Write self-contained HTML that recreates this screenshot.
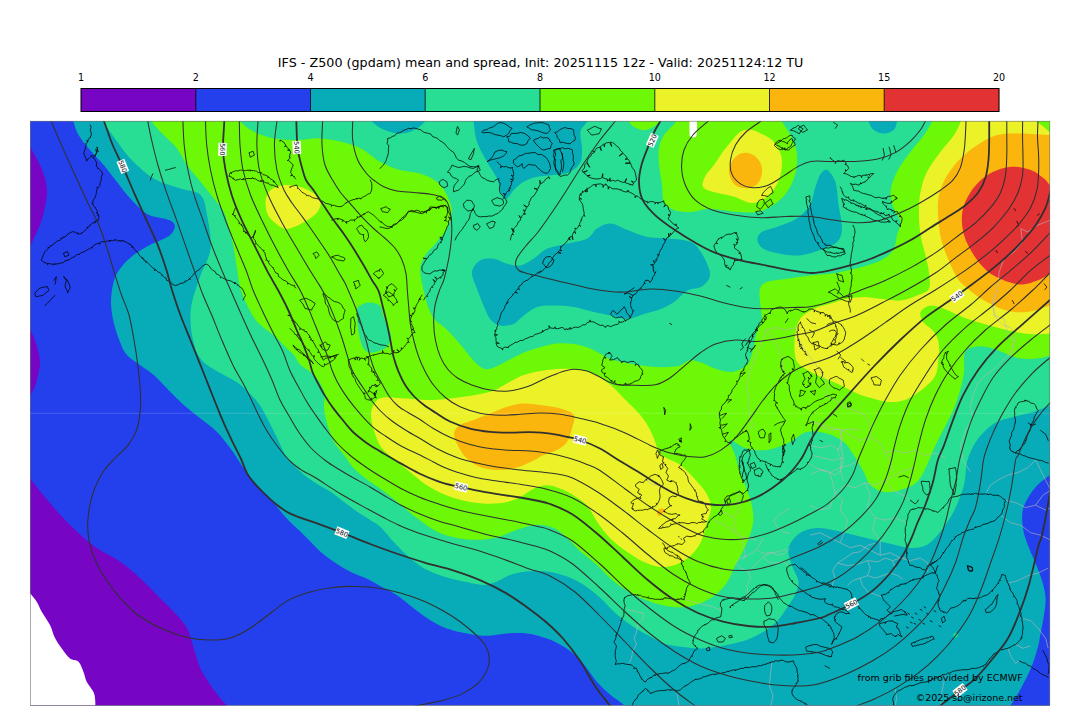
<!DOCTYPE html>
<html lang="en"><head><meta charset="utf-8"><title>IFS - Z500 mean and spread</title>
<style>
html,body{margin:0;padding:0;background:#fff}
body{width:1080px;height:718px;overflow:hidden;font-family:"DejaVu Sans","Liberation Sans",sans-serif}
svg{display:block}
text{font-family:"DejaVu Sans","Liberation Sans",sans-serif;fill:#000}
.t{font-size:12.7px}
.cb{font-size:9.6px}
.cl{font-size:6.6px}
.cr{font-size:9.5px}
.iso{fill:none;stroke:#303030;stroke-width:1.05;stroke-linejoin:round}
.isob{fill:none;stroke:#303030;stroke-width:1.8;stroke-linejoin:round}
.coast{fill:none;stroke:#000;stroke-width:0.75;stroke-linejoin:round;stroke-linecap:round}
.bord{fill:none;stroke:#b9b9b9;stroke-width:0.6;stroke-linejoin:round}
</style></head><body>
<svg width="1080" height="718" viewBox="0 0 1080 718">
<defs><clipPath id="mapclip"><rect x="30" y="121" width="1020" height="584.5"/></clipPath></defs>
<text class="t" x="277.8" y="67.2" textLength="525.6" lengthAdjust="spacing">IFS - Z500 (gpdam) mean and spread, Init: 20251115 12z - Valid: 20251124:12 TU</text>
<g id="colorbar">
<rect x="81" y="88.5" width="115" height="23" fill="#7605c4"/>
<rect x="195.8" y="88.5" width="115" height="23" fill="#2440ec"/>
<rect x="310.5" y="88.5" width="115" height="23" fill="#08abb8"/>
<rect x="425.2" y="88.5" width="115" height="23" fill="#28dd94"/>
<rect x="540" y="88.5" width="115" height="23" fill="#6cf806"/>
<rect x="654.8" y="88.5" width="115" height="23" fill="#ebf228"/>
<rect x="769.5" y="88.5" width="115" height="23" fill="#fab60c"/>
<rect x="884.2" y="88.5" width="115" height="23" fill="#e23234"/>
<path d="M195.8 88.5V111.5" stroke="#000" stroke-width="0.8"/>
<path d="M310.5 88.5V111.5" stroke="#000" stroke-width="0.8"/>
<path d="M425.2 88.5V111.5" stroke="#000" stroke-width="0.8"/>
<path d="M540 88.5V111.5" stroke="#000" stroke-width="0.8"/>
<path d="M654.8 88.5V111.5" stroke="#000" stroke-width="0.8"/>
<path d="M769.5 88.5V111.5" stroke="#000" stroke-width="0.8"/>
<path d="M884.2 88.5V111.5" stroke="#000" stroke-width="0.8"/>
<rect x="81" y="88.5" width="918" height="23" fill="none" stroke="#000" stroke-width="1"/>
<text class="cb" x="81" y="81" text-anchor="middle">1</text>
<text class="cb" x="195.8" y="81" text-anchor="middle">2</text>
<text class="cb" x="310.5" y="81" text-anchor="middle">4</text>
<text class="cb" x="425.2" y="81" text-anchor="middle">6</text>
<text class="cb" x="540" y="81" text-anchor="middle">8</text>
<text class="cb" x="654.8" y="81" text-anchor="middle">10</text>
<text class="cb" x="769.5" y="81" text-anchor="middle">12</text>
<text class="cb" x="884.2" y="81" text-anchor="middle">15</text>
<text class="cb" x="999" y="81" text-anchor="middle">20</text>
</g>
<g id="map" clip-path="url(#mapclip)">
<rect x="30" y="121" width="1020" height="585" fill="#2440ec"/>
<path id="pur1" fill="#7605c4" d="M28 144C28.8 145.3 31 148.5 33 152C35 155.5 38 160.7 40 165C42 169.3 43.8 173.5 45 178C46.2 182.5 47 187.2 47 192C47 196.8 46 202 45 207C44 212 42.5 217.5 41 222C39.5 226.5 37.7 230.3 36 234C34.3 237.7 32.3 241.7 31 244C29.7 246.3 28.5 247.3 28 248L10 248L10 144Z"/>
<path id="pur2" fill="#7605c4" d="M28 326C28.7 327.2 30.7 330.2 32 333C33.3 335.8 34.8 339.3 36 343C37.2 346.7 38.3 351.5 39 355C39.7 358.5 40.2 360.5 40 364C39.8 367.5 38.8 372.3 38 376C37.2 379.7 36.2 383 35 386C33.8 389 32.2 392 31 394C29.8 396 28.5 397.3 28 398L10 398L10 326Z"/>
<path id="pur3" fill="#7605c4" d="M26 472C26.7 473 27.7 474.8 30 478C32.3 481.2 35.5 485.5 40 491C44.5 496.5 50.7 504.2 56.8 511C62.9 517.8 70.1 525.3 76.8 531.5C83.5 537.7 89.7 543 96.9 548C104.1 553 112.8 556.6 120 561.6C127.2 566.6 133.8 572.4 140 578C146.2 583.6 151.4 589.4 157 595C162.6 600.6 168.7 606.2 173.7 611.7C178.7 617.2 183.7 621.9 187 628C190.3 634.1 191.6 641.8 193.8 648.5C196.1 655.2 197.7 662.4 200.5 668.5C203.3 674.6 207.2 680 210.5 685C213.8 690 217.4 694.8 220.5 698.6C223.6 702.4 227.6 706.4 229 708L229 740L0 740L0 472Z"/>
<path id="white" fill="#ffffff" d="M28 590C28.3 590.5 28.6 591 30 593C31.4 595 34.8 598.6 36.7 601.7C38.7 604.8 39.5 607.8 41.7 611.7C43.9 615.6 47.8 620.6 50 625C52.2 629.4 53 634.1 55 638C57 641.9 59.3 645.1 61.8 648.5C64.3 651.9 67.2 656.3 70 658.5C72.8 660.7 76.2 659.5 78.5 661.8C80.8 664 82.1 668.6 83.5 672C84.9 675.4 85.1 678.7 86.8 682C88.5 685.3 92.1 689 93.5 692C94.9 695 94.9 697.3 95.2 700C95.5 702.7 95.3 706.7 95.3 708L95 740L0 740L0 590Z"/>
<path id="teal" fill="#08abb8" d="M72 112C72.2 113.6 72.4 117.9 73.5 121.7C74.6 125.5 75.8 130.3 78.5 135C81.2 139.7 85.8 145 90 150C94.2 155 99.1 159.7 103.6 165C108.1 170.3 112.5 176.4 117 182C121.5 187.6 125.3 193.3 130.3 198.6C135.3 203.9 141.4 210.7 147 214C152.6 217.3 159.5 217.3 163.7 218.6C167.9 219.8 170.2 220.1 172 221.5C173.8 222.9 175.3 224.6 174.8 227C174.3 229.4 173.1 233 169 236C164.9 239 155.9 241.8 150 245C144.1 248.2 138.6 251.1 133.6 255C128.6 258.9 123.3 264.2 120 268.7C116.7 273.2 115.1 276.4 113.6 282C112.1 287.6 111 295.3 111 302C111 308.7 112.1 315.3 113.6 322C115.1 328.7 117.8 336.5 120 342C122.2 347.5 123.7 351.2 127 355C130.3 358.8 135.6 361.7 140 365C144.4 368.3 149.2 371.1 153.7 375C158.2 378.9 162 383.4 167 388.4C172 393.4 178.2 400 183.8 405C189.4 410 195 414 200.5 418.5C206 423 212 426.9 217 431.9C222 436.9 226.1 442.5 230.6 448.6C235.1 454.7 239.6 462.5 244 468.6C248.4 474.7 252.6 480 257 485C261.4 490 266.2 493.6 270.7 498.7C275.2 503.8 279.6 510.4 284 515.4C288.4 520.4 292.9 524.4 297.4 528.8C301.9 533.2 306.9 538.1 310.8 542C314.7 545.9 316.9 548.7 320.8 552C324.7 555.3 329 558.7 334 562C339 565.3 345.3 569.2 350.9 572C356.5 574.8 362.8 576.7 367.6 579C372.5 581.3 375.1 583.3 380 586C384.9 588.7 391.1 591.3 396.7 595C402.3 598.7 407.8 603.8 413.4 608C418.9 612.2 424.4 616.6 430 620C435.6 623.4 440.6 626.2 446.8 628.4C453 630.6 460.3 632.2 467 633.4C473.7 634.6 480.3 635.8 487 635.8C493.7 635.8 500.3 633.8 507 633.4C513.7 633 520.3 632.6 527 633.4C533.7 634.2 540.9 636.2 547 638.4C553.1 640.6 558.8 643.7 563.8 646.8C568.8 649.9 573.1 653.2 577 656.8C580.9 660.4 583.7 664.3 587 668.5C590.3 672.7 593.1 677.6 597 682C600.9 686.4 606.1 691.2 610.6 695C615.1 698.8 620.8 702.2 624 705C627.2 707.8 629 710.8 630 712L1100 740L1100 80L72 80Z"/>
<path id="blueR" fill="#2440ec" d="M1056 470C1055 470.8 1053.1 472.5 1050 475C1046.9 477.5 1041.2 481.1 1037.5 485C1033.8 488.9 1030 494.2 1027.5 498.7C1025 503.2 1023.2 507 1022.5 512C1021.8 517 1022.1 523.2 1023 528.8C1023.9 534.4 1026 540 1028 545.5C1030 551 1032.8 556.4 1035 562C1037.2 567.6 1039.8 573.2 1041.5 579C1043.2 584.8 1045.1 591 1045.5 597C1045.9 603 1044.8 609.2 1044 615C1043.2 620.8 1042 626.1 1040.9 631.7C1039.8 637.3 1039.2 642.4 1037.5 648.5C1035.8 654.6 1033.6 661.8 1030.8 668.5C1028 675.2 1024.1 682.5 1020.8 688.6C1017.5 694.7 1013.3 701.1 1010.8 705C1008.3 708.9 1006.8 710.8 1006 712L1100 740L1100 470Z"/>
<path id="gteal" fill="#28dd94" d="M101 112C101.4 113.6 101.1 117 103.6 121.7C106.1 126.4 111.5 133.9 116 140C120.5 146.1 124 152 130.3 158.4C136.6 164.8 145.3 173.5 153.7 178.5C162 183.5 172.6 185.8 180.4 188.5C188.2 191.2 196.1 190.6 200.5 195C204.9 199.4 205.3 206.1 207 215C208.7 223.9 211.6 238.6 210.5 248.7C209.4 258.8 203.6 266.5 200.5 275.4C197.4 284.3 193.7 294.2 192 302C190.3 309.8 190.3 315.7 190.5 322C190.7 328.3 191.8 334.5 193 340C194.2 345.5 195.7 350.8 198 355C200.3 359.2 202.7 361.7 207 365C211.3 368.3 218.3 371.7 223.9 375C229.5 378.3 235 380.5 240.6 385C246.2 389.5 252.9 396.2 257.3 401.8C261.8 407.4 264 412.4 267.3 418.5C270.6 424.6 274 431.9 277.3 438.6C280.6 445.3 283.5 453 287.4 458.6C291.3 464.2 296.3 468.1 300.7 472C305.1 475.9 309 478.7 314 482C319 485.3 325.8 488.7 330.8 492C335.8 495.3 339.5 498.7 344 502C348.5 505.3 353.1 508.9 357.6 512C362.1 515.1 367.2 518 370.9 520.4C374.6 522.8 376.2 523 380 526.5C383.8 530 388.9 536.8 393.4 541.5C397.8 546.2 401.7 550.6 406.7 555C411.7 559.4 417.3 564.4 423.4 568C429.5 571.6 436.8 574.3 443.5 576.6C450.2 578.9 456.9 580.2 463.6 581.6C470.3 583 478 585 483.6 585C489.2 585 492.6 583.3 497 581.6C501.4 579.9 505.3 576.7 510.3 575C515.3 573.3 520.9 572.2 527 571.6C533.1 571 540.3 570.8 547 571.6C553.7 572.4 560.9 574.4 567 576.6C573.1 578.8 578.3 581.4 583.9 585C589.5 588.6 595.6 593.8 600.6 598.3C605.6 602.8 609 607.2 614 611.7C619 616.2 625.1 621.1 630.7 625C636.3 628.9 641.9 631.9 647.4 635C652.9 638.1 658.4 641.4 664 643.4C669.6 645.4 674.7 645.9 680.8 646.8C686.9 647.6 694.7 648.5 700.8 648.5C706.9 648.5 712.5 647.5 717.5 646.8C722.5 646 726.1 645.1 731 644C735.9 642.9 741.3 642 746.7 640C752.1 638 758.4 634.8 763.4 631.7C768.4 628.7 772.9 625.7 776.8 621.7C780.7 617.8 783.8 612.5 786.8 608C789.8 603.5 793 599.4 795 595C797 590.6 799 586.6 798.5 581.6C798 576.6 793.6 570.5 791.9 564.9C790.2 559.3 787.1 553.3 788.5 548C789.9 542.7 795.2 536.3 800 533C804.8 529.7 810.8 528.4 817 528C823.2 527.6 829.8 529.4 837 530.8C844.2 532.2 851.7 534.5 860 536.5C868.3 538.5 878.6 541.1 887 543C895.4 544.9 903.8 547.7 910.5 548C917.2 548.3 922 547.5 927 544.8C932 542 936.1 537.1 940.6 531.5C945.1 525.9 950.1 518.8 954 511C957.9 503.2 961.8 492.9 964 484.7C966.2 476.5 965.3 468.6 967 462C968.7 455.4 971.2 450 974 445C976.8 440 980.1 435.9 984 432C987.9 428.1 992.4 424.3 997.4 421.8C1002.4 419.3 1007.9 418.5 1014 416.8C1020.1 415.1 1028 413.8 1034 411.8C1040 409.8 1045.7 407 1050 405C1054.3 403 1058.3 400.8 1060 400L1100 80L101 80Z"/>
<path id="green" fill="#6cf806" d="M149 112C149.5 113.6 149.6 117.9 152 121.7C154.4 125.5 159.5 130.6 163.7 135C167.9 139.4 173.1 143.4 177 148.4C180.9 153.4 183.1 159.4 187 165C190.9 170.6 196 176.2 200.5 181.8C205 187.4 210 193.6 213.9 198.6C217.8 203.6 221.4 207 223.9 212C226.4 217 227.2 222.5 228.9 228.6C230.6 234.7 232.6 242 233.9 248.7C235.2 255.4 235.9 262 237 268.7C238.1 275.4 238.9 282.7 240.6 288.8C242.3 294.9 244.5 300 247.3 305.5C250.1 311 252.9 317 257.3 322C261.8 327 269 331.1 274 335.6C279 340.1 284.1 345.8 287.4 349C290.7 352.2 291.8 352.3 294 355C296.2 357.7 297.4 361.7 300.7 365C304 368.3 310.1 370.5 314 375C317.9 379.5 322.3 386.2 324 391.8C325.7 397.4 323.4 403 324 408.5C324.6 414 325.8 419.4 327.5 425C329.2 430.6 331.2 436.9 334 441.9C336.8 446.9 340.7 450.6 344 455C347.3 459.4 350.1 464.4 354 468.6C357.9 472.8 363.3 476.7 367.6 480C371.9 483.3 375.1 484.9 380 488.5C384.9 492.1 390.6 496.5 396.7 501.4C402.8 506.3 410.1 513 416.8 518C423.5 523 430.1 528.2 436.8 531.5C443.5 534.8 449.7 536.6 456.9 538C464.1 539.4 472.8 540 480 539.8C487.2 539.5 493.8 538.2 500 536.5C506.2 534.8 510.8 531.8 517 529.8C523.2 527.8 530.9 525.1 537 524.8C543.1 524.5 548.8 525.8 553.8 528C558.8 530.2 562.5 534.1 567 538C571.5 541.9 575.5 547 580.5 551.5C585.5 556 591.4 560 597 565C602.6 570 608.4 576.9 614 581.6C619.6 586.3 624.6 589.6 630.7 593C636.8 596.4 644 599.4 650.7 601.7C657.4 604 664.7 605.9 670.8 606.7C676.9 607.5 682 607.5 687.5 606.7C693 605.9 699 604 704 601.7C709 599.4 713.7 596.4 717.6 593C721.5 589.6 724.9 585.8 727.6 581.6C730.3 577.4 731.8 572.4 734 568C736.2 563.6 738.7 559.7 741 555C743.3 550.3 746.2 544.5 748 540C749.8 535.5 751.1 531.7 752 528C752.9 524.3 753.4 521.8 753.4 518C753.4 514.2 752.8 509.9 751.7 505C750.6 500.1 748.7 494.2 746.7 488.7C744.8 483.2 742 477.6 740 472C738 466.4 736.7 460.3 735 455C733.3 449.7 728 441.1 730 440C732 438.9 740.6 446.9 746.7 448.6C752.8 450.3 760.1 450.8 766.8 450C773.5 449.2 780.1 446.6 786.8 443.6C793.5 440.6 800.2 433.6 806.9 431.9C813.6 430.2 820.9 431.8 827 433.5C833.1 435.2 839.2 438.3 843.7 441.9C848.2 445.5 850.4 450 853.7 455C857 460 860.9 467 863.7 472C866.5 477 867 481.7 870.4 485C873.8 488.3 878.8 491.2 883.8 492C888.8 492.8 895 491.7 900.5 490C906 488.3 912.6 486.2 917 482C921.4 477.8 924.2 470.6 927 465C929.8 459.4 931.2 454.7 934 448.6C936.8 442.5 940.7 435.2 944 428.5C947.3 421.8 951.2 415.2 954 408.5C956.8 401.8 958.9 394.5 960.6 388.4C962.3 382.3 963.3 377.7 964 371.7C964.7 365.7 963.2 356.6 964.8 352.5C966.4 348.4 970 347.8 973.7 346.9C977.4 346 982.5 346.2 987 346.9C991.5 347.6 995.9 349.6 1000.4 351.3C1004.9 353 1009.3 355.6 1013.8 356.9C1018.3 358.2 1022.7 358.8 1027.2 359C1031.7 359.2 1036.8 358.5 1040.6 358C1044.4 357.5 1046.8 356.5 1050 355.8C1053.2 355.1 1058.3 354.3 1060 354L1100 80L149 80Z"/>
<path id="arctic" fill="#28dd94" d="M236 112C236.8 113.6 237.6 118.4 240.6 121.7C243.6 125 248.4 128.9 254 131.7C259.6 134.5 266.8 137 274 138.4C281.2 139.8 289.6 140 297.4 140C305.2 140 313.6 138.1 320.8 138.4C328.1 138.7 334.2 140 340.9 141.7C347.6 143.4 354.5 145.1 361 148.4C367.5 151.8 373.5 158.2 380 161.8C386.5 165.4 393.3 168.1 400 170C406.7 171.9 413.9 171.5 420 173.5C426.1 175.5 432.3 178.2 436.8 181.8C441.3 185.4 444.3 190 446.8 195C449.3 200 451.9 206.4 451.9 212C451.9 217.6 449.3 223.6 446.8 228.6C444.3 233.6 440.1 237.9 436.8 242C433.5 246.1 429.6 249.3 427 253C424.4 256.7 422.1 260.5 421 264C419.9 267.5 420.2 270.2 420.5 274C420.8 277.8 421.7 281.8 422.8 286.7C423.9 291.6 425.2 298.1 427 303.4C428.8 308.7 430.9 314.6 433.7 318.5C436.5 322.4 440.3 323.7 443.7 326.8C447.1 329.9 450.4 333.3 453.8 336.9C457.2 340.5 460.5 344.6 463.8 348.6C467.1 352.6 470.4 357.6 473.8 361C477.2 364.4 480.8 367.9 484.4 368.9C488 369.8 491.4 368.2 495.6 366.7C499.8 365.2 504.8 362 509.4 359.7C514 357.4 518.2 354.9 523.3 352.8C528.4 350.7 534.4 348.7 540 347.2C545.6 345.7 551.2 344.2 556.7 343.6C562.2 343.1 568.2 343.3 573.3 343.9C578.4 344.5 582.6 345.5 587.2 347.2C591.8 348.9 596.9 351.9 601 354C605.1 356.1 605.5 357.8 612 359.7C618.5 361.6 631.7 364.1 640 365.3C648.3 366.6 655.5 367.1 662 367.2C668.5 367.3 674.3 366.9 679 365.8C683.7 364.7 686.3 360.9 690 360.3C693.7 359.8 696.4 361 701 362.5C705.6 364 712.4 367.9 717.8 369.4C723.2 370.9 728.6 372.4 733.4 371.7C738.2 371 743.7 367.8 746.7 365C749.8 362.2 750 360.5 751.7 355C753.4 349.5 755.1 338 756.8 332C758.5 326 761.3 323.9 761.8 318.9C762.3 313.9 760.3 307 760 302C759.7 297 758.9 292.1 760 288.8C761.1 285.5 762.3 283.7 766.8 282C771.3 280.3 779.6 279.9 786.8 278.8C794 277.7 802.8 276.2 810 275.4C817.2 274.6 823.8 274.6 830 273.8C836.2 273 840.8 271.8 847 270.4C853.2 269 860.9 267.3 867 265.4C873.1 263.4 879.3 261.5 883.8 258.7C888.3 255.9 891.6 252.6 893.8 248.7C896 244.8 895.9 239.4 897 235C898.1 230.6 901 226.4 900.5 222C900 217.6 895.5 213.6 893.8 208.6C892.1 203.6 890 198 890.5 191.9C891 185.8 893.7 178.5 897 171.8C900.3 165.1 906 157.9 910.5 151.8C915 145.7 920.4 140 924 135C927.6 130 929.8 125.5 932 121.7C934.2 117.9 936.2 113.6 937 112L937 80L236 80Z"/>
<path id="tealT0" fill="#08abb8" d="M366 112C366.9 113.5 369.4 118.7 371.7 121.3C374 123.9 376.9 126 380 127.7C383.1 129.5 386.7 130.8 390 131.8C393.3 132.8 396.7 133.5 400 133.5C403.3 133.5 406.9 132.8 410 131.8C413.1 130.8 415.8 129.5 418.3 127.7C420.8 126 423.1 123.9 425 121.3C426.9 118.7 429.2 113.5 430 112L430 80L366 80Z"/>
<path id="tealT1" fill="#08abb8" d="M473 112C473.1 113.6 472.9 116.8 473.6 121.7C474.3 126.7 474.8 135 477 141.7C479.2 148.4 483.7 155.7 487 161.8C490.3 167.9 494.5 173 497 178.5C499.5 184 500.3 191.7 502 195C503.7 198.3 505.1 199.4 507 198.6C508.9 197.8 510.9 192.8 513.7 190C516.5 187.2 519.8 184 523.7 181.8C527.6 179.6 532 177.9 537 176.8C542 175.7 548.2 175.8 553.8 175C559.4 174.2 566 174 570.5 171.8C575 169.6 578.6 165.7 580.5 161.8C582.4 157.9 582 153.4 582 148.4C582 143.4 579.7 136.1 580.5 131.7C581.3 127.2 585.1 125 587 121.7C588.9 118.4 591.2 113.6 592 112L592 80L473 80Z"/>
<path id="tealT2" fill="#08abb8" d="M472 272C472.5 267.3 476.4 262.6 480 260.4C483.6 258.2 489.1 258.1 493.6 258.7C498.1 259.2 502.5 262.6 507 263.7C511.5 264.8 515.9 266.2 520.4 265.4C524.9 264.6 529.3 261.5 533.7 258.7C538.1 255.9 541.5 251.2 547 248.7C552.5 246.2 560.3 245.4 567 243.7C573.7 242 582 241.2 587 238.7C592 236.2 593.1 231.1 597 228.6C600.9 226.1 605.6 223.4 610.6 223.6C615.6 223.8 621.2 227.8 627.3 230C633.4 232.2 640.1 235.6 647.4 237C654.6 238.4 663.6 237.9 670.8 238.7C678 239.5 685.8 239.8 690.8 242C695.8 244.2 697.9 247.6 700.9 252C703.9 256.4 707.6 264.2 709 268.7C710.4 273.2 710.4 275.8 709 278.8C707.6 281.9 704.5 285.1 700.9 287C697.3 288.9 692 288 687.5 290.5C683 293 678.5 298.9 674 302C669.5 305.1 665.8 306.9 660.8 308.9C655.8 310.9 649.6 312.2 644 313.9C638.4 315.6 632.9 318.6 627.3 318.9C621.7 319.2 616.2 316.6 610.6 315.5C605 314.4 600 313.4 593.9 312C587.8 310.6 580.6 308.1 573.9 307C567.2 305.9 559.9 305.5 553.8 305.5C547.6 305.5 542 305.3 537 307C532 308.7 527.6 312.7 523.7 315.5C519.8 318.3 517.7 322.2 513.7 323.9C509.8 325.6 503.9 326.4 500 325.6C496.1 324.8 492.7 322.2 490 318.9C487.3 315.5 485.8 310.5 483.6 305.5C481.4 300.5 478.9 294.4 477 288.8C475.1 283.2 471.5 276.7 472 272Z"/>
<path id="tealT3" fill="#08abb8" d="M866 112C866.5 113.6 867.4 118.7 868.7 121.7C870 124.7 871.2 128.1 873.7 130C876.2 131.9 880.4 133.4 883.8 133.4C887.1 133.4 891.6 131.9 893.8 130C896 128.1 896.1 124.7 897 121.7C897.9 118.7 898.7 113.6 899 112L899 80L866 80Z"/>
<path id="tealT4" fill="#08abb8" d="M827 170C829.5 171.1 833.4 176 835.3 181.8C837.2 187.6 837.5 197.2 838.6 205C839.7 212.8 842.3 222.4 842 228.6C841.7 234.8 840.7 238.4 837 242C833.3 245.6 826.2 247.8 820 250C813.8 252.2 806.7 254.8 800 255.4C793.3 256 786.1 254.8 780 253.7C773.9 252.6 767.2 251 763.4 248.7C759.6 246.4 757.7 242.8 757.4 240C757.1 237.2 758.6 234.2 761.8 232C765 229.8 770.9 229.2 776.8 227C782.6 224.8 791.4 222.3 796.9 218.6C802.4 214.9 807 210 810 205C813 200 813.3 193.5 815 188.5C816.7 183.5 818 178.1 820 175C822 171.9 824.5 168.9 827 170Z"/>
<path id="blobL" fill="#28dd94" d="M356.8 310C357.5 306.6 359.8 305.7 362 304.5C364.2 303.3 367 302.4 370 302.6C373 302.9 377.7 303.6 380 306C382.3 308.4 382.2 313.1 383.6 316.8C385 320.6 387.4 325.1 388.6 328.5C389.8 331.9 391.3 333.8 391 336.9C390.7 340 389.1 344.5 387 346.9C384.9 349.2 381.4 350 378.6 351C375.8 352 372.5 353.1 370 352.7C367.5 352.3 365.2 351 363.5 348.6C361.8 346.2 361 342.4 360 338.5C359 334.6 358.2 329.8 357.7 325C357.2 320.2 356.1 313.4 356.8 310Z"/>
<path id="greenC" fill="#6cf806" d="M678 112C677.6 113.6 678.1 117.9 675.8 121.7C673.5 125.5 666.8 130.6 664 135C661.2 139.4 659.8 143 659 148C658.2 153 658.5 158.8 659 165C659.5 171.2 661.2 178.8 662 185C662.8 191.2 662 197.8 664 202C666 206.2 669.5 208.3 674 210C678.5 211.7 685.5 212.2 691 212C696.5 211.8 701.8 209.3 707 209C712.2 208.7 717 209.5 722 210C727 210.5 731.2 211.7 737 212C742.8 212.3 750.9 213.2 757 212C763.1 210.8 768.5 208.3 773.5 205C778.5 201.7 783.4 197 787 192C790.6 187 793.3 181.2 795 175C796.7 168.8 797.5 161.2 797 155C796.5 148.8 794.5 143.6 792 138C789.5 132.4 784.5 126 782 121.7C779.5 117.4 777.8 113.6 777 112L777 80L678 80Z"/>
<path id="greenC2" fill="#6cf806" d="M627 112C627.3 113.6 627.5 119 629 121.7C630.5 124.4 633.3 126.6 636 128C638.7 129.4 642.2 130.2 645 130C647.8 129.8 650.7 128.4 653 127C655.3 125.6 657.7 124.2 659 121.7C660.3 119.2 660.7 113.6 661 112L661 80L627 80Z"/>
<path id="yelA" fill="#ebf228" d="M265.7 200C266.3 196.1 267.6 192.5 270.7 190C273.8 187.5 279 185.5 284 185C289 184.5 295.7 185.6 300.7 187C305.7 188.4 310.6 191.2 314 193.5C317.4 195.8 320.2 197.9 320.8 201C321.4 204.1 319.7 208.8 317.5 212C315.3 215.2 311.3 217.5 307.4 220C303.5 222.5 297.9 225.6 294 227C290.1 228.4 287.3 229.4 284 228.6C280.7 227.8 276.8 224.5 274 222C271.2 219.5 268.7 217.3 267.3 213.6C265.9 209.9 265.1 203.9 265.7 200Z"/>
<path id="yelB" fill="#ebf228" d="M371 415C371 410.5 372 406.9 374 404C376 401.1 377.6 398.4 383 397.5C388.4 396.6 398.3 398 406.7 398.4C415.1 398.8 424 400.3 433.5 400C443 399.7 454.2 398.2 463.6 396.8C473 395.4 482.8 394 490 391.8C497.2 389.6 501.4 386.2 507 383.4C512.6 380.6 517 377.2 523.7 375C530.4 372.8 538.6 371 547 370C555.4 369 566.1 368.4 573.9 369C581.7 369.6 587.8 370.7 593.9 373.4C600 376.1 605.6 380.8 610.6 385C615.6 389.2 619.5 393.9 624 398.4C628.5 402.9 633.5 407.4 637.4 411.8C641.3 416.2 644.6 420.5 647.4 425C650.2 429.5 652.1 434.1 654 438.6C655.9 443.1 656.8 448.7 659 452C661.2 455.3 663.8 456.4 667.4 458.6C671 460.8 675.8 461.4 680.8 465.3C685.8 469.2 693 477 697.5 482C702 487 705.3 490.9 707.5 495.4C709.7 499.8 711.2 503.7 710.9 508.7C710.6 513.7 707.6 520 705.9 525.5C704.2 531 703.4 537 700.9 542C698.4 547 694.7 551.9 690.8 555.5C686.9 559.1 682.5 562 677.5 563.9C672.5 565.8 666.4 567.3 660.8 567C655.2 566.7 649.6 564.5 644 562C638.4 559.5 632.9 555.9 627.3 552C621.7 548.1 615.6 543.8 610.6 538.8C605.6 533.8 601.2 527.6 597.3 522C593.4 516.4 590.9 509.8 587 505.4C583.1 501 578.3 498.2 573.9 495.4C569.5 492.6 565 490.4 560.5 488.7C556 487 551.5 485.3 547 485.3C542.5 485.3 538.1 486.8 533.7 488.7C529.3 490.6 524.9 494.8 520.4 497C515.9 499.2 512.1 500.9 507 502C501.9 503.1 496.2 503.7 490 503.7C483.8 503.7 477.2 503.4 470 502C462.8 500.6 454 498.2 446.8 495.4C439.6 492.6 432.9 489.2 426.8 485.3C420.7 481.4 415.6 476.4 410 472C404.4 467.6 398.2 462.8 393.4 458.6C388.6 454.4 384.2 451.6 381 447C377.8 442.4 375.7 436.3 374 431C372.3 425.7 371 419.5 371 415Z"/>
<path id="yelC" fill="#ebf228" d="M702.5 185C702.3 182.5 704.1 178.3 706 175C707.9 171.7 711.3 168.7 714 165C716.7 161.3 719.3 156.7 722 153C724.7 149.3 727 146.5 730 143C733 139.5 736.7 134.2 740 132C743.3 129.8 746.7 129.3 750 129.5C753.3 129.7 756.3 131.2 760 133C763.7 134.8 768.8 137.2 772 140C775.2 142.8 777.3 146.3 779 150C780.7 153.7 782 157 782 162C782 167 781.3 174.3 779 180C776.7 185.7 772.5 192.2 768 196C763.5 199.8 757.5 202.8 752 203C746.5 203.2 740.7 198.7 735 197C729.3 195.3 722.7 194.2 718 193C713.3 191.8 709.6 191.3 707 190C704.4 188.7 702.7 187.5 702.5 185Z"/>
<path id="yelD" fill="#ebf228" d="M963 112C962.6 113.6 962.1 117.9 960.6 121.7C959.1 125.5 957.3 130 954 135C950.7 140 945.1 145.7 940.6 151.8C936.1 157.9 930.4 165.1 927 171.8C923.6 178.5 921.9 185.2 920.5 191.9C919.1 198.6 918.9 204.7 918.9 211.9C918.9 219.1 919.4 227.8 920.5 235C921.6 242.2 924.1 249.2 925.5 255.4C926.9 261.6 928.3 266.4 928.9 272C929.5 277.6 930.9 284.9 928.9 288.8C926.9 292.7 921.7 293.6 917 295.5C912.3 297.4 906.6 299.9 900.5 300.5C894.4 301.1 886.5 299.4 880.4 298.8C874.3 298.2 869.3 297 863.7 297C858.1 297 852.6 297.7 847 298.8C841.4 299.9 835.6 302.1 830 303.8C824.4 305.5 818.6 306.4 813.6 308.9C808.6 311.4 803.1 314.4 800 318.9C796.9 323.3 795.8 329.6 795 335.6C794.2 341.6 794.2 350.1 795 355C795.8 359.9 796.3 361.7 800 365C803.7 368.3 810.3 371.7 817 375C823.7 378.3 833.2 381.9 840 385C846.8 388.1 852.6 391.5 857.8 393.7C863 395.9 866.7 396.7 871.2 398C875.7 399.3 880.5 400.9 884.6 401.5C888.7 402.1 892 402.3 895.7 401.9C899.4 401.5 903.2 400.8 906.9 399.2C910.6 397.6 914.3 395.2 918 392.6C921.7 390 926 386.6 929 383.6C932 380.6 934.3 378 935.8 374.7C937.3 371.4 937.4 368.1 938 363.6C938.6 359.2 939.4 352.4 939.2 348C939 343.6 938.2 340.1 936.9 336.9C935.6 333.7 933.6 331.4 931.4 329C929.2 326.6 925.5 325 923.6 322.4C921.7 319.8 920 316 920.2 313.5C920.4 311 922.8 308.8 925 307.5C927.2 306.2 929.9 305.3 933.6 305.7C937.3 306.1 941.8 307.9 947 310C952.2 312.1 958.9 315.8 964.8 318C970.7 320.2 976.7 321.8 982.6 323.5C988.5 325.2 994.5 326.9 1000.4 328.4C1006.3 329.9 1012.7 331.4 1018.3 332.4C1023.9 333.4 1028.6 334 1033.9 334.2C1039.2 334.4 1045.7 333.7 1050 333.5C1054.3 333.3 1058.3 333.1 1060 333L1100 80L963 80Z"/>
<path id="orB" fill="#fab60c" d="M454 433.5C454.2 429.8 456.7 427.2 460 425C463.3 422.8 468.6 421.9 473.6 420C478.6 418.1 484.4 415.7 490 413.5C495.6 411.3 501.4 408.5 507 406.8C512.6 405.1 518.1 403.8 523.7 403.5C529.3 403.2 534.3 404.2 540.4 405C546.5 405.8 554.9 406.8 560.5 408.5C566.1 410.2 572 411.7 573.9 415C575.8 418.3 573.1 424 572 428.5C570.9 433 569.5 438.3 567 441.9C564.5 445.5 560.9 447.8 557 450C553.1 452.2 548.2 453 543.8 455C539.4 457 535.4 459.7 530.4 462C525.4 464.3 519.3 467.3 513.7 468.6C508.1 469.9 502.6 470.3 497 470C491.4 469.7 485 468.9 480 467C475 465.1 470.6 461.9 467 458.6C463.4 455.3 460.7 451.2 458.5 447C456.3 442.8 453.8 437.2 454 433.5Z"/>
<path id="orC" fill="#fab60c" d="M729 173C728.5 169.5 729.5 166 731 163C732.5 160 735.2 156.7 738 155C740.8 153.3 744.8 152.5 748 153C751.2 153.5 754.7 155.5 757 158C759.3 160.5 761.5 164.3 762 168C762.5 171.7 761.5 176.8 760 180C758.5 183.2 755.8 185.7 753 187C750.2 188.3 746.2 188.5 743 188C739.8 187.5 736.3 186.5 734 184C731.7 181.5 729.5 176.5 729 173Z"/>
<path id="orD" fill="#fab60c" d="M1060 135C1058.3 135 1056.5 135.3 1050 135C1043.5 134.7 1029.6 133.4 1020.8 133.4C1012 133.4 1004.6 133.1 997.4 135C990.2 136.9 983.5 141.1 977.4 145C971.3 148.9 965.6 153.4 960.6 158.4C955.6 163.4 950.9 168.9 947.3 175C943.7 181.1 940.5 188.3 939 195C937.5 201.7 937.7 207.7 938 215C938.3 222.3 939.3 231.4 941 238.7C942.7 246 945.2 252 948 258.7C950.8 265.4 954.8 274.1 958 279C961.2 283.9 963.7 284.9 967 287.8C970.3 290.8 973.9 293.9 978 296.7C982.1 299.5 987 302.3 991.5 304.5C996 306.7 1000.5 308.7 1005 310C1009.5 311.3 1013.9 312.1 1018.3 312.3C1022.7 312.5 1027.5 311.9 1031.6 311.2C1035.7 310.5 1039.7 308.8 1042.8 307.9C1045.9 307 1047.1 306.5 1050 305.7C1052.9 304.9 1058.3 303.4 1060 303L1100 303L1100 135Z"/>
<path id="orUK" fill="#fab60c" d="M657 513.5C656.9 512.4 657.6 510.3 658.5 509.5C659.4 508.7 661.5 508.4 662.5 508.5C663.5 508.6 664.6 509.1 664.5 510C664.4 510.9 662.9 513 662 514C661.1 515 659.8 516.1 659 516C658.2 515.9 657.1 514.6 657 513.5Z"/>
<path id="redD" fill="#e23234" d="M1060 192C1058.3 190.8 1052.7 187.2 1050 185C1047.3 182.8 1047.2 181 1044 178.5C1040.8 176 1036.3 171.9 1030.8 170C1025.3 168.1 1018 166 1010.8 166.8C1003.6 167.6 994.1 170.8 987.4 175C980.7 179.2 974.9 185.8 970.7 191.9C966.5 198.1 963.4 204.7 962.3 211.9C961.2 219.1 962 227.8 964 235C966 242.2 970.3 249.6 974 255.4C977.7 261.2 982.3 266.4 986 270C989.7 273.6 992.1 274.6 996 276.7C999.9 278.8 1004.9 281 1009.4 282.3C1013.9 283.6 1018.3 284.7 1022.7 284.5C1027.1 284.3 1032.3 282.3 1036 281C1039.7 279.7 1042.7 278 1045 276.7C1047.3 275.4 1047.5 274.8 1050 273.3C1052.5 271.9 1058.3 268.9 1060 268L1100 268L1100 192Z"/>
<path id="greenTR" fill="#6cf806" d="M1033 112C1033.7 113.5 1035.2 118.9 1036.9 121.3C1038.6 123.7 1040.8 124.4 1043 126.3C1045.2 128.2 1047.5 130.2 1050 132.5C1052.5 134.8 1056.7 138.8 1058 140L1100 140L1100 80L1033 80Z"/>
<path id="whiteM" fill="#ffffff" d="M689.5 121C690.7 121 695.3 118.7 696.5 121C697.7 123.3 696.8 132.3 696.5 135C696.2 137.7 695.9 136.7 695 137C694.1 137.3 691.9 137.3 691 137C690.1 136.7 689.8 135.3 689.5 135Z"/>
<path d="M30 413.3H1050" stroke="#ffffff" stroke-opacity="0.2" stroke-width="0.8" fill="none"/>
<circle cx="955.6" cy="635.2" r="2.4" fill="#28dd94"/>
<g class="bord">
<path d="M750.4 430.3L752.9 425.3L750.4 417.8L747.9 407.7L749.2 397.7L746.7 390.2L747.9 380.2L750.4 370.1L754.2 360.1L758 350.1L763 340.1L765.5 330L775.5 327.5L785.5 330L795.6 327.5"/>
<path d="M765.5 330L770.5 335L776.8 345.1L780.5 355.1L783 365.1L784.3 373.9"/>
<path d="M795.6 327.5L798.1 337.5L803.1 347.6L810.6 357.6L818.1 367.6L824.4 377.7L828.2 387.7L826.9 395.2"/>
<path d="M810.6 445.3L820.6 447.9L830.7 445.3L840.7 450.4"/>
<path d="M811.9 455.4L823.1 457.9L833.2 460.4L843.2 457.9"/>
<path d="M840.7 430.3L840.7 440.3L841.9 450.4L843.2 460.4L840.7 470.4L843.2 480.4"/>
<path d="M808.1 462.9L815.6 467.9L825.6 470.4L835.7 475.4L840.7 470.4"/>
<path d="M813.6 421.5L823.1 425.3L833.2 427.8L840.7 430.3L850.7 429L860 430.3"/>
<path d="M645.9 479.3L649.3 482.6L653.5 485.1L658.5 484.3L660.1 487.6"/>
<path d="M712 518.6L717 521.9L722 523.6L727 526.9L732 530.3L737 533.6L742 536.9"/>
<path d="M720.3 511.9L727 513.5L732 516.9L734.5 521.9L733.7 526.9L737 533.6"/>
<path d="M732 516.9L737 513.5L738.7 506.9L737.9 500.2L738.7 491.8"/>
<path d="M742 536.9L743.7 542L742 547L745.4 552L743.7 560"/>
<path d="M742 536.9L748.7 538.6L757.1 540.3"/>
<path d="M773.8 520.2L778.8 515.2L785.5 510.2L790 508.5"/>
<path d="M773.8 520.2L777.1 526.9L783.8 531.9L790 533.6"/>
<path d="M757.1 550.3L763.8 553.7L770.5 552L777.1 555.3L783.8 553.7L790 548.6"/>
<path d="M627.7 609.4L632.7 610.7L637.7 612L644 613.2L642.8 619.5L637.7 624.5L636.5 632L634 638.3L636.5 644.5L632.7 650.8L631.5 658.3L629 663.3"/>
<path d="M684.1 599.4L692.9 601.9L702.9 604.4L712.9 606.9L721.7 610.7"/>
<path d="M676.6 691.4L677.9 698.4L679.1 706.5"/>
<path d="M771.9 662.1L770.6 673.4L769.4 685.9L773.1 695.9L770.6 706.5"/>
<path d="M745.5 600.7L748 593.2L746.8 585.6L750.6 578.1L748 571.8L753.1 566.8L758.1 561.8L763.1 556.8L770.6 553L778.1 551.8L785.6 549.3"/>
<path d="M748 571.8L740.5 568.1L735.5 563.1L740.5 558.1L748 555.5L755.6 550.5L760.6 543L763.1 538"/>
<path d="M763.1 556.8L768.1 561.8L775.6 563.1L783.1 561.8L788.2 565.6"/>
<path d="M1008 583.1L1018.1 580.6L1028.1 575.6L1038.1 573.1L1048.2 568.1"/>
<path d="M1021.8 618.2L1030.6 620.7L1038.1 628.2L1045.6 638.3L1048.2 648.3"/>
<path d="M1015.6 644.5L1023.1 648.3L1030.6 645.8"/>
<path d="M1008 648.3L1010.6 655.8L1015.6 663.3L1019.3 660.8"/>
<path d="M895.2 706.5L896.5 698.4L895.2 688.4"/>
<path d="M940.4 706.5L941.6 693.4L945.4 674.6"/>
<path d="M847.6 585.6L852.6 580.6L860.1 578.1L867.7 575.6L875.2 578.1L882.7 575.6L890.2 573.1L897.7 575.6L902.8 579.4"/>
<path d="M860.1 578.1L862.6 585.6L867.7 591.9L875.2 594.4L881.4 596.9"/>
<path d="M831.3 586.9L835.1 578.1L832.6 570.6L837.6 563.1L845.1 558.1L852.6 553L860.1 551.8L867.7 545.5L875.2 543"/>
<path d="M837.6 563.1L847.6 565.6L857.6 564.3L867.7 560.6L877.7 561.8L885.2 558.1L892.7 560.6L900.2 558.1L910.3 560.6L920.3 558.1L927.8 563.1L927.8 571.8"/>
<path d="M867.7 560.6L870.2 568.1L867.7 575.6"/>
<path d="M892.7 560.6L895.2 568.1L890.2 573.1"/>
<path d="M810 535.2L820 532.7L830.1 537.7L840.1 542.7L850.1 547.7L860.1 545.2L870.2 550.2L880.2 555.3L890.2 552.8L900.2 557.8L906.5 557.8"/>
<path d="M835.1 492.6L842.6 500.1L840.1 510.1L847.6 520.2L845.1 530.2L840.1 542.7"/>
<path d="M810 505.1L820 510.1L830.1 507.6L835.1 492.6L845.1 485.1L855.1 487.6L865.2 482.6L875.2 485.1L885.2 480.1L895.2 475L905.3 470L915.3 467.5"/>
<path d="M865.2 482.6L870.2 495.1L867.7 507.6L875.2 517.7L872.7 530.2L880.2 540.2L880.2 555.3"/>
<path d="M885.2 480.1L892.7 490.1L902.8 495.1L910.3 500.1"/>
<path d="M875.2 517.7L885.2 520.2L895.2 517.7L906.5 522.7"/>
<path d="M810 475L820 470L830.1 472.5L840.1 467.5L850.1 465L860.1 460"/>
<path d="M830.1 472.5L832.6 482.6L835.1 492.6"/>
<path d="M985.5 493.8L990.5 485.1L998 480.1L1008 475L1018.1 472.5L1028.1 467.5L1035.6 460"/>
<path d="M1005.5 500.1L1015.6 502.6L1025.6 507.6L1035.6 505.1L1045.6 510.1L1050.7 507.6"/>
<path d="M1000.5 515.2L1010.6 522.7L1020.6 525.2L1030.6 532.7L1040.6 535.2L1050.7 540.2"/>
<path d="M1050.7 490.1L1043.1 495.1L1035.6 505.1"/>
<path d="M1035.6 460L1040.6 470L1045.6 480.1L1050.7 490.1"/>
<path d="M996.8 290L993 305L995.5 317.6L1003 325.1L1010.6 327.6L1015.6 335.1L1013.1 347.7L1008 355.2L1000.5 362.7L993 370.2L985.5 375.2L978 382.8L972.9 395.3L970.4 407.8L972.9 417.9L965.4 430.4L960.4 445.4L962.9 460.5L970.4 471.7"/>
<path d="M810 420.4L820 425.4L830.1 430.4L840.1 429.1L850.1 435.4L860.1 440.4L870.2 437.9L880.2 442.9L885.2 452.9L890.2 460.5L892.7 471.7"/>
<path d="M840.1 429.1L842.6 440.4L837.6 450.4L841.3 460.5L840.1 471.7"/>
<path d="M885.2 452.9L895.2 450.4L905.3 452.9L915.3 450.4L925.3 455.5L935.3 452.9L945.4 458"/>
<path d="M825 395.3L835.1 400.3L845.1 407.8L855.1 410.3L865.2 415.3L870.2 425.4L870.2 437.9"/>
<path d="M1049.9 220.3L1037.5 225.3L1027.5 232L1020.8 228.6L1022.5 242L1014.1 252L1004.1 258.7L999.1 272.1L997.4 288.8L992.4 302.2L994.1 315.5L1004.1 318.9L1007.4 332.2L1014.1 342.3L1010.8 355.6"/>
</g>
<g class="coast">
<path d="M496.3 343L499.3 343.5L496.2 342.1L496 340.5L496 337.9L494.7 335.5L497.5 334.8L494.5 334.7L495.1 332.9L496 330.5L494.5 330.9L496.3 329.7L497 328.1L496.5 327.6L497.2 327.2L497.6 325.6L497.6 322.9L498.9 320.6L499.9 318.1L500.5 315.4L501.3 312.9L503 310.6L504.5 308.2L505.1 305.4L507.4 303.3L506.1 303L507.9 302.5L507.9 300L510.1 297.9L512 296.2L513.1 294L515 292.4L517.5 293.2L515.6 291.7L516.4 290.3L518.1 288.6L519.3 289.8L518.6 287.9L519.1 286.2L521.4 284.9L522.6 282.8L525.1 281L527.9 279.9L530.2 277.8L532.2 276.5L531.6 276.1L533 276.1L534.4 275.5L536.4 274L538.2 272.3L538.9 273.4L539 271.8L540.9 272.1L540.5 271L541.7 271.6L542.7 270.3L545.4 268L547.7 265.3L549.2 262.6L551.7 260.7L552.7 257.7L554.8 254.8L557.7 252.7L561.1 253.3L558.2 252L559.5 250.3L561.9 250.8L560 249.5L561 247.6L560.1 246.8L561.5 246.9L562.8 245.2L565.6 243.1L567.8 240.2L569 237.7L570 240.2L569.6 237L571.7 236.5L573 239.7L572.3 235.8L572.8 233.9L574.1 231.6L575.6 233.6L574.7 230.9L575.7 229.4L574.7 228.1L576.2 228.7L577.8 227.7L579 225.1L580.7 226.5L579.4 224.3L580.1 222.5L581.6 220.1L580.7 219.9L581.8 219.3L581.9 217.5L583.8 215.3L584.8 216.4L584.1 214.5L584.1 212.6L583.5 210.1L583.1 207.6L582.8 205.1L581.8 202.9L580.2 201L579 198.8L581.7 199L579.3 198L579.5 196.3L580.3 193.8L581.1 195.4L581 193.3L582.8 192.6L582.3 191L583.5 192.1L584.6 190.6L586.2 192.2L585.3 190L586.6 188.8L587.1 192L587.3 188.3L589 188.1L590.9 186.6L592.8 185L595.3 184.4L596 186.8L596.2 184.2L597.8 184.2L600.4 183.8L602.9 184.7L603.1 187.4L603.7 185.1L605.7 184.9L605.7 183.8L606.5 185.2L608 186.3L608.3 189.2L608.8 186.7L610.4 187.5L612.7 188.8L615.4 188.8L618 189L620.4 190.1L620.9 189.3L621.3 190.3L622.8 191.1L625.3 191.9L628 191.7L627.9 190.1L628.9 191.9L630.4 192.6L633 193.8L635.2 195.5L635.1 197.8L636 195.9L638 196.3L640.1 198.5L642.9 199.8L645.5 201.3L648 201.8L647.6 203.2L648.9 201.9L650.5 201.6L653.1 201.6L655.5 202.6L654.9 204.1L656.4 202.4L658.1 202.5L657.8 204L659 202.3L660.6 202.3L663 201.3L664 200.8L663.7 202L665.2 204.2L663.9 207.1L665.9 204.8L668 206.3L668.8 209.7L670.6 212.6L669.6 215.9L668.3 214.1L669.3 216.7L668 218.9L670.8 221.1L673.1 223.9L675.8 225.5L676 223.8L676.5 226L678.1 227.7L678.9 228.1L677.4 228.3L675.1 229.7L673.1 232.7L671.1 234.5L670.5 232.9L670.4 235.1L669.4 236.6L668.6 233.2L668.6 237.2L666.8 237.7L665.8 240.3L663.3 238.3L665.4 241.1L664.6 242.8L663 245.2L662.1 247.9L660.5 250.2L659.3 252.7L658.9 255.4L657.4 254.4L658.6 256.2L657 257.5L656.8 260.2L655.6 259.7L656.4 261.1L654.9 262.5L653.4 260.4L654.5 263.3L653.5 264.9L650.6 264.6L653.1 265.7L653 267.8L653.7 267.4L653.2 268.7L653.2 270.3L654 269.8L653.4 271.2L654.7 272.6L656 271.7L654.8 273.5L654.3 275.3L652.6 277.2L652.2 279.8L650.5 281.6L649.8 282.7L649.6 281.3L648.1 280.4L645.5 280.3L644.3 282.9L645.3 283.4L643.9 283.7L643 285.3L640.7 288L641.4 288.3L640 288.7L638 290.3L636.1 293.5L632.9 295.3L632 297.8L629.1 296.4L631.7 298.7L631.4 300.4L630.4 302.9L631.1 302.8L630.7 303.7L630.6 305.6L631.4 308.1L632.9 310.4L633.8 310.7L632.7 311.2L632.6 313L631.2 315.4L630.4 317.9L628.1 319.5L625.4 320.4L625.9 321L624.6 320.8L623 321.9L620.2 322.4L618.7 321.1L619.4 322.9L617.9 324.2L615.3 324.7L612.8 325.7L610.4 326.7L608 325.5L605.3 326.6L605.4 327.5L604.4 326.5L602.9 325.2L600.4 325.4L597.9 324.3L595.6 323L593.2 321.8L590.3 321.7L590 319.9L589.5 322.1L587.5 322.3L585.6 324.8L582.5 324.9L580.3 326.7L577.8 327.4L575.1 327.1L572.7 328L570.3 329.2L570.2 327.3L569.4 329.1L567.8 328.9L567.5 329.9L566.9 328.8L565.2 329.2L565.1 330.1L564.3 329.1L562.9 327.4L560.2 327.9L557.7 328.8L555.2 328.4L555.2 326.8L554.3 328.4L552.7 328.3L550.2 327.9L548.9 325.7L549.4 328.3L547.7 329.2L545 330L542.8 331.9L542.7 330.2L542 332.3L540.2 332.9L537.7 333.8L535 334.4L532.9 336.4L530.2 336.7L527.8 338L525.2 338.8L523 340.4L520.1 340.5L517.8 342L514.9 342.5L512.6 344.2L510.1 345.5L507.8 347L508.4 347.7L507 347.3L504.9 347.1L502.6 348.5L502.7 350.1L501.7 348.2L500 347.8L497.6 346.7Z"/>
<path d="M630.4 317.9L629 315.1L626.7 312.9L625.9 309.6L624.2 306.6L622.7 308.9L620.4 310.4L618.9 312.6L616.7 314.1L615.1 312L612.9 310.4L610.4 314.1L612.7 316.3L615.4 317.9L618.6 317.5L621.7 316.7L623.7 318.4L625.4 320.4"/>
<path d="M632.9 295.3L630.3 294.3L627.9 292.8L624.2 294.1L626.3 292.9L628.3 291.5L630.4 290.3L634.2 287.8"/>
<path d="M542.7 262.8L543.7 260.1L545.2 257.7L547.6 256.7L550.2 256.5L552.2 258.3L554 260.2L553 262.9L551.5 265.3L549.2 266.9L546.5 267.8L544.5 265.3Z"/>
<path d="M380 168.5L383.3 165.1L384.7 163L386 160.9L386.7 158.4L387.6 156L388.3 153.6L388.4 151L388.4 148.4L388.9 145.8L387.1 143.5L387.7 140.9L387.5 138.4L390.2 138L392.4 136.4L394.9 135.7L396.7 133.3L399.3 132.8L401.7 131.7L403.8 130.2L406.2 129.5L408.4 128.4L410.9 128.7L413.5 127.9L416 128.5L418.4 129.2L421.1 129.9L423.2 132L425.8 132.8L428.5 133.4L431 134.2L432.6 136.6L435.2 137.5L437.7 138.4L439.5 140.5L441.8 141.7L444.8 143.8L446.9 146.7L450.2 150.1L453.3 152L455.2 155.1L456.3 158L458.6 160.1L461.6 161L464.4 162.4L466.9 164.3L470 166.4L473.6 166.8L476.2 167L478.6 166L476.9 170.1L478.9 172.4L480.3 175.2L482 177.5L484.7 178.6L487 180.2L490.2 181.3L493.7 181.8L495.9 179.7L498.7 178.5L498.8 181.3L500.3 183.5L499.6 186.8L499.5 190.2L500.2 192.9L501.7 195L503.7 196.9L505.7 199.2L507 201.9L505.6 204.5L503.7 206.9L502.5 209.4L500.3 211.1L498.2 213.3L495.3 214.4L492.2 216L488.6 216.1L485.9 216.7L483.1 216.5L480.3 216.9L477.3 216L475.3 213.6L474.3 210.9L472.8 208.6L471.8 211.2L470.3 213.6L469.8 217L468.6 220.3L466.5 222.2L465.3 224.8L463.6 227L462.2 229.4L460.3 231.4L458.6 233.7L456.6 236.7L455.2 240"/>
<path d="M447.7 171.8L449.5 169.8L450.9 167.6L451.9 165.1L455.2 166.4L458.6 167.6L461.3 167L464 166.3L466.9 166.8L470.2 167.9L473.6 168.5L476.1 166.8L478.6 165.1L479.1 167.8L480.3 170.1L478.1 171.4L475.6 172L473.6 173.5L471.6 175.4L468.9 176.4L466.9 178.5L465.5 180.6L464.8 183L463.6 185.2L461 187.6L458.6 190.2L456 190.8L453.5 191.9L453.5 188.5L454.4 185.2L456.5 182.7L458.6 180.2L456.3 178.5L453.5 177.7L451.3 176L450 173.4Z"/>
<path d="M439.3 181.8L442.7 179.3L444.8 180.5L446.9 181.8L447.7 186L444.3 187.7L442.1 186.7L440.2 185.2Z"/>
<path d="M463.6 203.6L466.9 200.2L469.5 200.4L471.9 201.1L472.9 203.3L474.4 205.2L473.9 207.8L472.8 210.3L470.2 210.5L467.7 211.1L464.4 207.7Z"/>
<path d="M492 200.2L494.5 198.9L497 197.7L500 198.5L502.8 199.4L503.7 203.6L501.7 205.1L499.5 206.1L497 205.4L494.5 205.2L492.9 202.9Z"/>
<path d="M457.7 126.7L459.4 130L458.5 132.5L457.7 135L456 133.4L456.4 130.9L456.9 128.4Z"/>
<path d="M468.6 158.4L470.2 155.5L471.9 152.6L473.2 150.5L474.4 148.4L473.8 150.9L473.6 153.4L472.4 156.4L471.1 159.3Z"/>
<path d="M380 227L382.8 227.5L385.5 228.3L388.4 228.6L390.6 227.6L392.2 225.6L394.2 224.2L396.7 223.6L398.8 221.3L400.9 218.9L403.4 216.9L405.4 215.3L407 213.2L408.4 211.1L411.7 211.7L415.1 211.9L418.4 212.9L421.8 213.6L424.1 212.7L426 210.9L428.5 210.3L430.1 206.9L433.5 207.2L436.8 207.7L440 206L443.5 205.2L446.9 206.9L447.5 210.5L449.4 213.6L450.9 216.8L451 220.3"/>
<path d="M436.8 197.7L440.2 196L442.3 197.2L444.3 198.6L441.8 200.2L437.7 199.9Z"/>
<path d="M482 131.7L483.9 130L486.6 129.8L488.6 128.4L491 127.5L493.5 126.8L495.3 125L497.6 123.4L500.3 122.5L503.8 123.3L507 125L509.3 127L512 128.4L510.1 130.7L508.7 133.4L506.4 135.3L503.7 136.7L500.4 135.6L497 135L494.4 134.4L492 133.4L489.6 132.5L487 132.5L484.3 132.8Z"/>
<path d="M507 136.7L509.6 136.3L511.1 133.7L513.7 133.4L517.1 133.4L520.4 132.5L524 133.2L527.1 135L530.4 138.4L528 140.4L527.1 143.4L524 145.1L520.4 145.1L517.2 143.6L513.7 143.4L511.3 142.3L508.7 141.7L508.5 139Z"/>
<path d="M527.1 126.7L529.2 125.3L531.5 124.4L533.8 123.3L536.5 122.9L539.3 122.7L542.1 122.5L545.5 123.6L548.8 125L549.4 127.6L550.5 130L547.1 133.4L543.7 133L540.5 131.7L537.2 130.6L533.8 130L531.1 129.7L529.2 128.1Z"/>
<path d="M533.8 140.1L536 139L538.4 138.3L540.5 136.7L543.1 138L546.1 137.5L548.8 138.4L550.1 141.1L552.2 143.4L551 145.8L550.5 148.4L547.1 149L543.8 150.1L540.9 148.9L538.8 146.7L535.4 143.4Z"/>
<path d="M495.3 151.8L498.5 150.4L502 150.1L504.4 151.2L507 151.8L505.6 154L503.7 155.9L500.5 157.6L497 158.4L493.7 159.3L490.3 160.1L487 161.8L489.5 159.7L492 157.6L493.6 154.7Z"/>
<path d="M513.7 160.1L516.4 158.3L518.7 155.9L522.3 155.2L525.4 153.4L527.9 153.3L530.4 153L532.9 152.6L535.4 152.6L537.9 154.6L541.2 154.4L543.8 155.9L546 157.4L547.5 159.5L548.8 161.8L550.1 165L550.5 168.5L549.1 171.2L547.1 173.5L544.7 172.8L542.3 172L540.5 170.1L537.7 167.9L535.4 165.1L532.1 165.1L528.8 164.3L526.2 166.3L523.7 168.5L522.3 166.2L522.1 163.5L520 165.8L517.1 166.8L513.7 163.5Z"/>
<path d="M497 161.8L499 163.7L501.1 165.6L500.5 168.1L501.8 166.2L503.7 166.8L506.5 166.6L509.2 168.1L509.3 167.3L510.1 168.2L512 167.6L512.9 167.6L512.3 168.5L513 170.5L513.7 173.5L513.2 176.3L511.1 175.1L513 177.2L513.3 179.2L510.6 179.3L513.1 180.1L512 181.8L510.9 181L511.7 182.7L511.3 184.8L509.7 187.4L510.8 188.2L509.4 188.2L508.7 190.2L509.9 190.6L508.2 190.9L506.5 192.3L505.4 195.2L503.4 193L505 196L503.7 198.6"/>
<path d="M548.8 176.8L549.8 178.5L548.2 177.5L545.9 178.9L543.8 181.8L540.7 183.8L539.8 180.2L540.1 184.4L538.8 186.9L537.8 189.1L534 188.2L537.4 189.9L536.7 191.4L535.4 193.5L533.9 195.9L531.4 197.5L530.4 200.2L529.1 202.3L529 205.1L527.1 206.9L523.6 204.9L526.7 207.7L525.9 209.1L524.9 211.4L523.6 209.7L524.5 212.2L523.7 213.6L525.6 213.9L523.3 214.4L522.2 215.6L521.1 217.9L518.9 215.5L520.7 218.7L520.4 220.3L518.2 222.1L517.2 224.9L515.4 227L513.5 228.8L513.9 231.8L511.6 228.1L513.5 232.6L512 233.7L513.5 234.6L511.8 234.5L511 236.8L510.4 240"/>
<path d="M553.8 150.1L557.2 148.7L560 148.4L560.4 151.2L562.2 153.4L562.5 156L562.5 158.5L560.8 160.9L561.3 163.5L561.5 166.4L561.3 169.4L560.1 172.2L560 175.2L557.6 172.8L555.5 170.1L555.6 167.2L554 164.7L553.8 161.8L554.6 158.9L553.5 155.9L554 153Z"/>
<path d="M473.6 225.3L477.8 223.6L480.3 227L476.9 230.3L474.4 228.6Z"/>
<path d="M487 223.6L489.5 222.5L492 221.1L495.3 222L494.3 224.4L493.7 227L489.5 228.6L488.1 226.2Z"/>
<path d="M582.6 170.1L584.5 167.9L584.7 164.9L586.5 162.7L589.7 167.3L586.9 161.9L587.6 160.1L588.6 157.7L590.7 156.2L591.7 153.8L594.2 152.5L592.5 150.8L594.7 151.8L595.1 150.1L596.9 148L599.6 147.1L601.3 150.6L600.4 146.6L601.9 145.6L603.9 143.8L604.4 147L604.8 143.7L606.7 142.8L609.6 142.3L611.7 146.5L610.5 142.1L612.7 142.6L614.8 144.2L616.7 146L618.9 147.6L620.4 150.4L622.7 152.6L619.2 156.2L623.2 153.3L624.3 154.6L626.1 156.3L627.4 158.5L625 159.3L627.9 159.2L629.1 160.3L630.2 162.6L625.2 163.3L630.6 163.4L631.3 165.2L632.3 167.8L634.2 170L635.2 172.6L635.7 175.1L636.3 177.6L636.5 180.2L634.1 182.3L631.3 181.1L633.6 183L632.7 185.2L630.3 184.2L630.1 185.2L629.4 183.9L627.7 183.5L625.2 182.7L626.5 178.5L624.4 182.4L622.5 182.3L620.1 181.3L617.7 180.2L615.3 181.2L612.5 180.3L610.2 181.4L610 177.9L609.4 181L608 179.5L607.6 181.3L607.2 179.1L605.2 178.7L602.6 177.7L602.8 173.7L601.8 177.8L600.2 178.6L597.7 178.9L595.1 178.9L592.5 178.4L590 177.6L587.6 176.4L590.3 175.2L587 175.7L585.9 174.4L583.6 172.7L587.4 170.7L583.1 172Z"/>
<path d="M555 132.5L557.7 131.6L559.8 129.7L562.3 128.4L565 127.5L567.9 128.5L571.1 128.6L573.8 130L573.7 132.6L574.1 135.1L575.4 137.5L575.1 140.1L572.4 141.7L570.1 143.8L567.5 143.5L565.1 143L562.6 142.2L560 142.6L559.4 139.8L557.4 137.6L556.7 134.8Z"/>
<path d="M555 150.1L557.6 149.4L560.1 148.7L562.5 147.6L564.9 148.8L567.7 148.4L570.2 148.9L572.6 150.1L572.3 152.6L573.2 155.1L573.4 157.6L573 160.1L574 162.6L573.8 165.1L571.8 167.3L570.7 170.1L569.6 173L567.5 175.2L564.9 175L562.5 175.9L560 176.4L558.3 174.5L557.9 171.8L556.6 169.6L555 167.6L555.4 165.1L555.2 162.6L555.7 160.1L554.3 157.6L555.7 155.1L555.2 152.6Z"/>
<path d="M561.3 152.6L562.2 155L562.8 157.5L563.1 160.1L563.8 162.6L563.6 165.6L563.2 168.5L562.5 171.4"/>
<path d="M587.6 130L590.1 128.8L592.5 127.4L595.1 126.3L598.1 127.9L601.4 128.8L600.4 131.4L598.9 133.8L596.4 134.2L593.9 134.8L591.4 135L589.4 132.6Z"/>
<path d="M714.2 245.3L715.5 243.2L717.8 243.6L716.1 242.6L716.8 241.1L718.5 239.3L717.9 239.2L719 238.6L720.5 237.8L721.5 238.6L721.3 237.4L723.2 237L725.4 235.2L728 234.1L731 234.3L733.8 232.8L736.8 232.8L735.2 233.4L736.9 233.7L737 235.4L738.2 237.7L738 240.3L736.3 238.7L737.6 241.1L737.4 243.1L736.1 242.3L737 243.9L735.2 245.2L733.6 244.3L734.8 246L734.3 247.9L736.4 249.5L738.6 251L740.5 252.9L738.6 253.2L740.7 253.7L741.2 256L741.8 259.1L742.2 259.7L740.9 259.3L738.7 260.3L738.6 259L737.9 260.5L735.5 260.4L734 260.3L735.1 261.2L733.7 262.3L733.3 264.9L731.5 266.8L730.5 269.2L730 270.1L729.7 268.8L727.9 268.2L728.4 267.1L727 267.8L725.5 266.7L727.3 265.5L725.2 265.8L724.7 263.7L724.5 260.6L723 257.9L721.2 255.8L719 254.3L716.7 252.9L715.9 253.5L716.4 252L715.5 250.5L714.5 248Z"/>
<path d="M756.8 206.5L757.5 203.1L759.3 200.2L763.1 199L764.2 201.4L764.3 204L762.6 206.6L760.6 209Z"/>
<path d="M761.8 195.2L763.3 192.4L765.6 190.2L767.9 188L770.6 186.4L772.1 189.5L773.1 192.7L770.3 194.2L768.1 196.5L765 195.8Z"/>
<path d="M765.6 202.7L768.1 200.9L770.6 199L771.7 201.5L773.1 204L770.4 205.6L768.1 207.7L766.6 205.3Z"/>
<path d="M756.1 211.5L760.6 210.7L763.1 213.3L760.6 214L758.1 214.8Z"/>
<path d="M774.4 145.1L776.6 143.6L779 142.3L781.2 140.7L783.1 138.8L786.3 138.1L788.9 136L791.9 135L793.3 137.4L795.7 138.8L793.9 141.2L792 143.6L790.7 146.3L787.9 147.9L785.6 150.1L783.3 149L780.6 149.6L778.1 148.8L776.1 147.1Z"/>
<path d="M790.7 130L793.1 128.2L796 127.2L798.2 125L800.4 127.3L803.2 128.8L800.9 131L799.4 133.8L796.6 132.2L793.8 130.9Z"/>
<path d="M90.2 125L91.1 127.4L90.2 130.1L91.1 132.5L91.4 135L90.1 137.2L90.8 137.3L89.7 138L88.3 139.1L87.8 141.7L86.9 140.5L87.3 142.5L86.4 143.8L85.5 143.7L86.2 144.7L85.7 146.8L84.9 149.7L83.9 152.6L84.3 155.3L85.6 157.6L85.8 157.4L85.8 158.5L86.4 160.1L86.8 161.2L87.2 159.6L88.9 158.6L91 156.3L90.5 155.8L91.8 155.9L94.1 155.7L96.4 153.8L97.3 150.7L98.4 151.5L97.4 149.9L97.7 147.6L96.6 147.1L97.4 148.4L96.7 150.1L95.6 149.6L96.3 150.9L96.4 152.8L95.5 155.3L96 155.5L95.2 156.2L93.9 157.6L92.7 157.4L94.2 158.4L95.3 159.9L96.4 162.4L96.7 162.3L96.7 163.3L96.1 165.4L96.5 165L96.4 166.2L97.7 167.6L97 168L98.2 168.3L99.7 169.4L101.6 171.4L102.7 173.9L101.3 176.6L101.3 179.8L100.2 182.7L99.9 185.4L98.1 187.6L96.6 187.3L97.7 188.4L96.7 189.9L96.4 192.7L95.9 195.3L95 197.9L93.1 200L92.7 202.7L91.9 203.8L93.1 203.5L93.4 205.5L95.2 207.7L95.6 207.5L95.6 208.5L96.9 210L97.4 212.9L96.4 213L97.8 213.7L98.9 215.3L97.7 215.1L98.7 216.1L99 217.9L97.7 220.3L98.3 220.6L96.9 220.8L95.4 222.3L95.1 220.8L94.7 222.8L92.4 223.2L90.2 225.3L89.3 225L89.5 225.9L88.2 227.5L86.9 227L87.6 228.2L86 229.5L83.9 231.6L81 233.4L81.3 233.9L80.2 233.8L77.6 234.1L77.6 232.5L76.8 233.7L75.4 232.3L72.6 231.6L70.1 232.8L67.6 234.1L66.1 236.1L63.9 237.3L63.4 236.7L63.2 237.8L61.8 238.5L60.9 237.9L61.1 239.1L60.1 240.3L57.3 241L55.1 242.8L53 244.5L53.1 244.9L52.3 245.1L50.9 246.1L50.3 245.5L50.2 246.7L48.8 247.9L48.1 247.1L48.2 248.6L46.8 249.7L45 251.6L43.8 254.1L42.5 257.2L41.3 260.4L45 262.9L47.5 263.3L47.6 264.7L48.4 263.5L50 263.8L52.6 264.1L53.1 265.1L53.5 264L55.1 263.7L55.4 264.7L55.9 263.6L57.6 264.1L60.1 263.1L62.6 262.9L62.6 262.4L63.4 262.5L64.9 261.2L64.9 260.5L65.7 260.8L67.7 260.5L67.3 259.8L68.5 260.1L70.1 259.1L72.1 257.5L74.6 256.8L76.4 254.9L78.9 254.1L79.2 254.8L79.7 253.7L81.3 252.6L84 251.8L86.4 250.4L89.1 248.9L91.7 247.4L92.2 248.3L92.4 246.9L93.9 245.3L96.3 243.9L99.1 243.1L99.8 244.3L99.9 242.7L101.4 241.6L104.5 241.8L107.4 241.2L110.2 240.3L109.8 241.5L111.1 240.3L112.7 240.7L115.2 239.6L115 240.6L116.1 239.6L117.7 241.1L120.2 240.3L120 241.5L121.1 240.6L122.9 241L123 240.3L123.7 241.3L125.5 241.7L127.7 243.2L130.3 244.1L129.9 245.1L130.8 244.8L132.3 245.9L131.7 247.4L132.8 246.6L133.8 248.1L135.3 250.4L137.3 252.2L137.7 251.9L137.9 252.9L138.9 254.4L140.3 256.6L142.7 257.9L141.9 258.3L143.4 258.4L144.1 260.4L144.6 259.9L144.8 261L146.6 261.6L145.6 262.2L147.2 262.3L148.6 263.8L150.7 265.8L152.8 267.9L155.4 269.5L154.1 270.4L156.1 270L157.6 271.7L160.4 272.9L162 274.8L161.7 275.5L162.6 275.4L163.5 276.7L165.6 278.1L166.1 277.8L166.2 278.8L166.6 280.4L169.1 281.2L171.2 282.6L172.9 284.7L175.4 285.5L178 284.8L180.3 283.4L180.9 283.9L181.2 283.1L183.1 283.1L185.4 281.7L184.8 281.3L186.1 281.1L187.6 280.5L189.3 278.6L190.1 279.7L189.9 278.1L191.1 277L192.9 275.4L194.5 273.2L196.3 271.3L198.9 270.1L200.5 267.9L202.3 266.3L204.4 264.9L206.7 264.1L209.2 265.9L210.8 268.5L213 270.4L215.2 271.6L216.4 274L218.8 274.9L220.5 276.7L220.2 277.9L221.3 277.1L222.9 278.1L225.5 279.4L228 280.4L230.7 280.8L233 282.3L235.6 282.9L234 283.6L236.3 283.5L237.7 284.6L237.3 285.3L238.4 285.2L239.4 286.7L241.8 288L243.3 290.4L244.3 293L245.6 295.5L244.2 297.7L243.1 300"/>
<path d="M63.8 252.9L67.6 251.6L68.9 255.4L65.1 256.6Z"/>
<path d="M35 293L37.3 290.3L40 288L42.5 287.4L45 286.8L47.5 286.7L48.8 290.5L46.8 292.2L44.6 293.8L42.5 295.5L39.4 296L36.3 296.7Z"/>
<path d="M63.8 276.7L66.3 280.4L65.8 283L65.1 285.5L65.6 288.1L67.1 290.4L67.6 293L68.7 290.4L70.1 288L69.6 285.3L68.6 282.9L67.6 280.4L65.5 278.8Z"/>
<path d="M53.8 280.4L56.3 276.7L56 279.2L55.6 281.7L55.1 284.2"/>
<path d="M45 305.5L47.6 303.1L50.1 300.5L52.4 297.8L55.1 295.5"/>
<path d="M230.6 172.6L231.5 173.7L231.4 172.4L233 171.8L235.4 170.8L238.1 170.9L240.6 170.1L243.1 170.3L245.6 170.7L248.1 170L248 170.7L249 170L250.6 170.1L249.9 171.1L251.5 170.4L253.2 170.6L255.7 171.1L255.9 170.8L256.6 171.3L258 172.6L260.6 172.6L260.9 172L261.4 173L262.8 174.5L265.6 175.3L268.2 176.4L267.7 177.8L268.9 177L269.9 178.5L272.3 179.8L274.4 181.4L272.9 181.5L274.9 182.2L275.6 183.6L277.3 185.4L278.2 187.7L275.7 186.4L275.7 187L274.9 186L273.2 185.2L270.5 185L268.2 183.4L268.1 182.6L267.3 183.1L265.6 182.7L263.2 181.6L263.7 180.5L262.3 181.3L260.4 181.4L261.5 180.3L259.6 181.1L257.9 180.5L255.6 178.9L253.1 178.5L252.5 177.4L252.2 178.5L250.6 178.6L248.1 178.4L245.6 178.9L243.2 179.8L243.5 178.3L242.3 179.9L240.5 178.9L238.1 179.7L235.6 180.2L233.4 179L233.7 178L232.6 178.6L231.7 177.1L229.3 176.4Z"/>
<path d="M235.6 207.7L234.2 210.8L233.1 214L232 214.4L233.6 214.7L234.6 216.2L235 215.2L235.2 216.9L236.2 218.4L238.1 220.3L239.5 223L238.8 223.5L240 223.7L241.9 224.9L240.9 225.1L242.4 225.7L243.1 227.8L244.1 230.7L243.1 231.4L244.6 231.5L246.8 232.5L244.9 232.7L247.3 233.3L248.1 235.3L251.9 237.8L253.4 235.5L254.6 232.9L255.6 230.3L255 232.9L254 235.3L253.1 237.8L253.6 237.3L253.6 238.6L255 240.2L256 243.1L255.4 244.1L256.5 243.9L258.1 245.3L260.5 248L263.1 250.4L264.2 250.3L263.5 251.2L265 253.3L265.6 256.6L266.7 259.2L265.7 260L267.2 260L268.2 261.6L268.9 260.8L268.6 262.4L269.4 264.1L271.3 266L273 268.1L273.5 267.7L273.6 268.8L274.4 270.4L275.5 272.7L278.1 273.7L278.5 276.5L280.7 277.9L283 279.9L285.9 281.1L288.2 282.9L287.3 284L289 283.4L290.7 284.7L293.6 285.7L294.5 285.2L294.4 286.2L295.7 288"/>
<path d="M280.7 140.1L279.5 140.8L281.3 140.7L283.7 142.1L285.7 145.1L284.6 146.7L286.2 145.8L287.2 147.7L289.6 149.7L287.6 150.2L290 150.5L290.7 152.6L289.6 155L290.1 155.5L289.3 155.9L289.7 157.8L290.4 157.7L289.4 158.7L288.2 160.1L287.4 160.6L288.8 160.7L290.8 162.5L293.2 165.1L292.2 167.6L291.2 170L290.7 172.6L292.3 174.8L290.6 175.7L292.8 175.5L293.9 176.9L294.5 176.5L294.5 177.6L295.7 178.9"/>
<path d="M165.4 170.1L167.9 169.7L170.4 168.9L172.9 168.2L175.4 167.6"/>
<path d="M150.3 180.2L151.6 176.4L152.8 173.9"/>
<path d="M249.4 152.6L253.1 151.3L254.4 155.1L250.6 157.1Z"/>
<path d="M290 186.7L290 187.7L290.9 186.5L293.4 185.9L296.7 185L298 187.8L297.3 188.4L298.5 188.5L300 190L301.9 192.2L304.4 193.5L306.7 195L306.6 195.8L307.5 195.4L309.6 195.9L312.2 197.5L315.1 198.4L318.1 198.8L320.6 200.7L323.4 201.7L326 203.5L329 204L331.8 205.1L331.1 206.4L332.7 205.2L334.6 205.5L337.3 206.5L340.1 206.7L342.6 206.1L344.4 204.3L346.1 202.5L346.2 203.3L346.9 202L348.5 201.7L351.2 200.4L354 199.4L354.5 199.9L354.9 199.1L356.9 198.4L357 199.4L357.7 198.2L360.4 198.3L360.8 199.2L361.3 198.1L363.5 196.7L365.8 195.7L367.8 194.1L370.2 193.4L371.6 190.2L371.9 186.7L371.7 183.2L370.2 180"/>
<path d="M331.8 220.1L335 218.9L338.5 218.4L337.2 219.4L339.3 218.8L340.8 219.3L343.2 220.1L342.1 221.5L344 220.5L345.2 221.8L346.7 223.5L346 221.6L348.1 221.8L350.6 220L353.5 220.1L354.7 221.2L354.3 219.7L355.8 219.2L357.8 217.5L356.8 216.9L358.6 217.1L360.2 216.8L359.8 216.2L361 216.3L362 215L364.4 214.3L363.6 213.8L365.2 213.8L366.2 212.5L368.6 211.8L371 213.5L373.6 215.1L375.8 217.4L378 219.6L380.3 221.8L381.1 221.2L381 222.2L382.5 222.8L384.3 224.5L386.3 225.9L388.6 226.8L391.7 226.4L391.8 227.9L392.5 226.1L394.4 225L397 223.5L398.8 221.2L401.6 220.3L403.7 218.4L403.2 218L404.2 217.7L405.7 216.5L406.9 213.9L408.7 211.8L411.3 210.4L414.3 210.9L414.6 212L415.2 210.7L417 210.1L420.2 211.5L420.5 212.6L421.1 211.7L423.7 211.8L423.8 212.7L424.5 211.4L426.3 211.3L426.2 213.2L427.1 210.9L428.2 209.5L429.4 211L429 209.1L430.4 208.4L430.4 209.8L431.3 208.2L433.1 207.3L436 207.3L436 208.9L436.9 207.2L438.8 206.7L438.7 208.6L439.6 206.5L442.2 206.4L443.2 207.4L443.1 206.2L445.4 205.1L447.3 207.3L447.7 207.1L447.7 208.1L447.9 210.1L447.4 213.5L446.3 216.8L444.6 217.2L446.4 217.7L446 219.4L444.2 220.7L446.1 220.3L447.1 221.8"/>
<path d="M450.5 218.4L448.5 216.8L450.1 219.3L448.4 220.9L448.7 224.2L447.1 226.8L446.1 229.6L444.8 232.4L443.8 235.2L442.9 237.5L439.8 237.3L442.5 238.3L442.4 240L440.4 238.6L442 240.8L440.4 241.8L441.3 242.8L440 242.6L438.8 243.8L437.6 246L437.1 248.5L433.9 250.3L432.1 253.5L429.1 255.6L427.1 258.6L423.2 258.1L426.6 259.3L425.1 260.9L423.7 263.6L421.9 266.7L422 270.3L424 272.7L427.1 273.6L429.8 273.9L432.1 272.4L434.3 270.8L437.1 271.1L439.8 269.9L442.7 270.6L445.4 270.3L442 269.7L444.9 271L443.2 272.1L442.9 275.3L440.4 276.9L441.3 278L439.8 277.6L437.4 278.9L434.8 276.8L436.7 279.5L435.4 282L433.1 279.3L434.9 282.7L434 284.4L432.2 286.5L432.9 287.3L431.6 287.2L430.4 288.6L429.9 291.2L428.3 293.2L427.1 295.3L427.6 296.6L426.5 296.1L425.1 297.5L423.7 300"/>
<path d="M356.9 228.5L359 226.2L361.9 225.1L363.9 228.1L366.9 230.1L368.2 233.4L368.6 236.8L367.3 239.6L365.2 241.8L363.7 238.7L363.5 235.2L363.9 234.3L362.7 234.8L359.4 233.5L358.1 231Z"/>
<path d="M381.1 208.4L383.6 207.7L386.1 206.7L388 208.3L390.3 209.2L387.8 212.6L385.3 212.2L382.8 211.8Z"/>
<path d="M313.4 253.5L316.7 251.9L319.2 255.2L315.9 258.6L314.9 255.9Z"/>
<path d="M331.8 256.9L335 255.7L338.5 255.2L340.5 256.6L343.1 257.2L345.2 258.6L343.5 261.1L340.2 260.3L336.8 259.9L334.4 258.2Z"/>
<path d="M353.5 282L356 281.2L358.5 280.3L359.1 282.9L360.2 285.3L358.3 287.2L356 288.6L355.4 288.7L355.7 287.8L355 285.2L354.2 285.2L354.7 284.4Z"/>
<path d="M386.9 287L387.4 288.5L387.7 286.5L389.3 285.1L392 283.6L394.5 286.1L397 288.6L395.5 290.7L393.9 289.6L395.1 291.5L394.2 292.8L393.6 295.3L391.1 296L388.6 297L387.1 294.4L385.3 292L386.8 291.9L385.6 291.1L386.6 289.6Z"/>
<path d="M373.6 273.6L375.6 271.6L378.3 270.7L379.7 271.3L379.1 270.1L380.3 268.6L382.2 270.9L383.6 273.6L381.3 276.3L378.6 278.6L379.4 277.9L377.9 278L376.2 276Z"/>
<path d="M290 315.1L287.8 315.4L290.6 315.8L291.2 317.5L293.1 319.4L291.7 320.5L293.7 320.1L294.5 321.7L295 321.5L295.1 322.4L296.7 323.4L298.4 326.2L300.7 328.3L299.3 329.2L301.3 329L303.4 330.1L303.9 329.4L304 330.8L306.1 331.9L306.5 331.2L306.7 332.5L308.3 334.1L310.1 336.8L308.9 337.4L310.5 337.6L311.3 338.9L310.3 340L311.7 339.7L312.4 341.1L312.9 340.2L312.9 341.8L314 343L315.1 345.2L316.1 347.4L317.8 349.2L318.9 351.4L317.6 352.3L319.3 352.2L320.1 353.5L321 355.8L322.3 358L323.4 360.2L325.3 358.4L327.8 357.8L330.1 356.9L330 358.4L331 356.6L333.4 355.9L336.8 355.2L335.4 357.9L334 356.6L334.9 358.6L333.5 360.2L330.7 361.5L330.8 362.2L329.9 362L328.4 363.5L325.5 364.6L324.3 363.8L324.8 365.1L323.4 366.9L320.8 365.5L318.4 363.5L316.4 361.6L314.5 359.5L313.4 356.9L314.9 355.9L312.8 356.2L311.6 354.9L310.3 352.5L308.6 350.4L309.5 350.1L308.1 349.7L306.7 348.5L304.7 346.7L305.3 346L304.1 346L303.5 344.2L302.3 341.8L300 340.1L301.1 338.7L299.5 339.4L298.5 337.9L296.8 335.9L297.8 334.5L296.2 335.2L295 333.9L294.6 334.1L294.4 333.2L293.3 331.8L290 328.4"/>
<path d="M323.4 293.3L325.7 294.8L327.5 296.8L329.9 298.1L331.8 300L334.4 301.5L337.4 302.2L340.1 303.4L342 305.5L343.1 308.1L345.2 310.1L344.3 312.8L343.6 315.5L343.5 318.4L340.9 319.9L338.5 321.8L335.8 321.3L333.5 320.1L331.7 317.7L330.1 315.1L329 311.8L328.4 308.4L327.6 306L325.7 304.2L325.1 301.7L324.9 298.8L323.6 296.2Z"/>
<path d="M351 318.4L353.5 316.7L354.4 320.1L355.2 323.4L354.9 325.9L354.6 328.4L354.7 331L354.3 333.5L351.8 335.1L351.3 332.4L351.1 329.5L350.5 326.8L350.7 324L350.8 321.2Z"/>
<path d="M356.9 313.4L357.3 316L358.8 318.3L358.9 321.1L360.2 323.4L361.6 326.1L362.5 329L363.5 331.8L364.5 334.1L366.2 335.9L367.3 338.1L368.6 340.1L371.5 340.9L374 342.8L376.9 343.5L380.1 344.8L383.6 345.2L386.2 345.7L388.6 346.8"/>
<path d="M348.5 360.2L351.2 358.8L354.1 357.9L355.5 360.1L354.9 357.6L356.9 356.9L357.3 359.7L357.7 357.1L360.2 357.9L359 360.4L361 358.1L363.5 358.5L365.4 360.4L364.4 358.2L366.2 358.3L368.6 356.9L366.3 356.7L368.6 357.8L368.8 360.2L368.6 363.5L367.5 364.3L369 364.3L369.3 366L371.5 367.7L371.9 370.2L371.2 371.4L372.4 370.9L374.1 372L372.7 372.3L374.7 372.7L374.6 375.2L376.9 376.9L378 379.2L376.8 380.4L378.4 380L379.2 381.3L380.3 383.6L376.9 386.9L377 385L376.1 386.7L374.5 385.8L376 384.2L373.6 385.5L371.9 385.3L370.7 388.1L369.5 387.1L370.2 388.9L368.6 390.3L368.1 392.3L369.3 390.8L371.1 392L373.6 393.6L374.8 396.1L374.2 393L376.9 390.3L376 393.6L373.9 393L375.7 394.5L375.2 397L376.5 397.6L374.5 397.5L372.8 398.7L370.2 400.3L371.6 398.3L369.4 400L367.6 399.7L365.2 398.6L365 395.9L363.5 393.6L365.3 393.5L363 392.9L361.9 391.1L360.2 388.6L358.5 386.1L356.9 383.6L355.7 381.4L355.1 378.9L353.5 376.9L352.9 377L353.2 376.1L351.9 374.3L353.8 372.8L351.6 373.5L351.6 371.2L350.2 368.6L348.9 365.9L348.8 363Z"/>
<path d="M422 295L420.7 297.1L419.1 299.1L421.1 299.1L418.7 299.9L418.7 301.7L417.2 303.7L416 305.9L415.4 308.4L413.1 307.9L415 309.2L414.9 310.9L413.9 313.2L412.1 313.3L413.5 314L412 315.1L409.3 315.4L411.8 315.9L410.7 318.3L410.3 321.8L411.7 321.2L410.7 322.6L411.6 324.3L412.8 326.8L413.7 329.3L411.7 329.3L413.9 330.1L414.5 331.8L415.1 332.7L413.9 332.5L412 334L410.3 336.8L408.6 338.7L406.9 338.2L408.2 339.5L408 341.2L409.3 342.4L407.6 342L407 343.5L405.2 345.3L403.7 347.4L402 349.3L401.4 347.7L401.2 349.8L399.8 351.6L396.9 349.5L399.1 352.1L397 352.7L393.4 352.7L394.1 350.2L392.6 352.9L390.3 354.3L387 353.4L383.6 353.2L382.5 350.5L382.7 353.3L380.1 353.2L376.9 354.3L373.5 354.8L373.7 355.8L372.6 355L370.2 356L368.6 356.9"/>
<path d="M383.6 295L386 293.1L388.6 291.7L391.1 293.4L393.6 295L394.6 297.3L396.3 299.2L397 301.7L397.8 302.2L396.3 302.3L393.6 305L393.4 305.7L393 304.4L391.4 302.3L388.6 300L388.2 300.7L388 299.4L386.2 297.4Z"/>
<path d="M300 300L303.3 298.8L306.7 298.4L308.8 299.6L311 300.6L313 302.1L315.1 303.4L314.2 305.7L312.5 307.7L311.7 310.1L308.4 309.2L305 308.4L304 306.2L302.9 304L301.3 302.1Z"/>
<path d="M320.1 345.2L320.7 346.3L320.8 344.7L322.8 343.9L325.1 341.8L327.4 343.8L326.9 344.3L328.1 344.3L330.1 345.2L330.4 345.5L329.7 346L329 347.7L327.6 350.2L325 350.2L322.6 349.3L321.5 347.1L322.2 346.7L321.1 346.4Z"/>
<path d="M293.3 345.2L295.3 347.3L297.5 348.9L296.8 349.8L298.2 349.4L300 350.2L302.1 352.5L304.4 354.7L303.1 355L305.1 355.3L306.7 356.9L309.3 358.8L311.5 361L313.4 363.5L313.2 363.9L312.8 362.9L310.1 360.2L307.9 358.6L307.8 359.3L307.2 358.1L305.9 356.8L303.9 355.1L301.7 353.5L299.2 352.2L297.2 350.2L295 348.5Z"/>
<path d="M320.9 356.9L323.5 356.6L325.9 356L328.9 356.1L331.8 356.9L335 355.4L338.5 354.3"/>
<path d="M602.5 362.6L602.9 360L603.8 357.6L606.1 358.1L604.3 356.9L606.3 353.8L610.1 352.6L608.2 352.9L610.5 353.4L612.1 356.3L609.6 360.1L613.8 359.6L617.6 357.6L619.1 359.9L621.3 361.4L621.9 363L622.2 361.5L624.6 361.3L627.6 362.6L630.6 361.5L633.9 361.4L636.1 363.6L635 365.4L636.8 364.1L638.9 365.1L638.2 365.9L639.3 365.9L639.8 367.4L641.6 369.2L642.6 371.4L642 374L643.1 373.9L641.7 374.8L640.8 376.3L640.1 378.9L637.8 380.6L635 381.1L632.6 382.7L630.2 383.8L630.3 384.4L629.4 384L627.8 384.6L626.9 383.7L626.9 384.8L625.1 384.7L625.6 382.9L624.2 384.7L622.6 385.2L620.1 384.5L617.6 384.7L614.6 382.8L615 380.6L613.8 382.4L611.3 381.4L612.1 380.4L610.6 380.9L609.6 379.2L607.6 377.5L605 376.4L604.3 374L605.7 373.3L603.8 373.3L602.3 372.4L601.3 370.1L605 367.6L602 365.6Z"/>
<path d="M766.7 317.5L765.5 316.4L766.3 318.3L765.5 320L764.6 318.4L764.8 320.6L763.3 322.8L762.3 322.3L762.6 323.4L760.5 325L758.1 327.2L756.7 330L755.6 328.9L756.2 330.7L755.4 332.9L752.9 335L752.1 334.6L752.6 335.9L752.2 338.4L750.4 341.3L749.2 340.3L750.1 342.1L748.9 344.3L747.9 347.6L747.2 347L747.6 348.4L747.7 350.3L746.9 349.9L747.4 351.1L746.3 352.6L745.4 355.1L746.9 358.1L745.7 358.1L747.3 359L747.9 361.4L746.6 363.4L747.4 363.7L746.2 364.2L745.3 365.5L744.2 367.6L743.5 370.1L744.2 370.2L743 370.8L741.3 371.6L740.4 373.9L739.9 376.5L740.3 376.7L739.6 377.4L739.2 379.1L737.9 381.4L736.3 381.1L737.4 382.2L736.7 383.6L737.2 384L736.3 384.3L735.4 385.6L734.1 387.7L732.3 389.4L731.7 391.9L730.4 394L728.9 395.9L728.3 395.4L728.5 396.7L728.1 398.3L726.6 400.2L725.3 402.6L723.2 404.3L721.6 406.5L721.4 409.2L719.9 411.5L719.1 414L720 413.9L719.2 414.9L719.6 416.9L720.3 419.8L720.8 419.5L720.3 420.7L719.9 422.8L720.3 425.3L720.9 427.8L718.9 427.5L721.1 428.7L721.6 430.3L722.1 432.9L722.7 435.5L724.1 437.8L726 440.3L724.7 441.5L726.5 441L727.9 442.8L730.5 441.9L730.7 443.6L731.3 441.5L732.9 440.3L735 437.9L734.8 437.2L735.7 437.4L737.9 436.6L740.1 434.3L742.9 432.8L742.9 431.7L743.7 432.3L746.7 430.3L745.1 431.3L747.1 431.1L748.4 434.1L749.2 437.8L749 440.4L747.1 441.2L749.1 441.3L750.2 442.8L751.1 442.4L750.4 443.7L750.4 445.3L752.3 447.9L751.5 448.3L752.8 448.6L754.2 450.4L755.3 453.6L756.7 456.6L758.3 458.8L758.8 458.5L759 459.4L760.5 460.4L760 461.5L761.3 460.6L762.9 461.1L765.5 461.6L765.4 462.8L766.3 462L767.8 463.2L770.5 464.1L770.4 465.7L771.3 464.5L773.4 466L776.8 466.7L780.5 466.7L779.7 466.9L780.7 465.8L781.5 464.2L782.1 461.7L783.6 462.6L782.3 460.8L782.5 459.2L781.8 458.5L782.8 458.3L783 456.6L782.1 456.1L783.1 455.7L783.9 453.9L783.7 451L785.3 451L783.8 450.1L783.5 448.1L784.3 445.3L785.8 445L784.1 444.5L783.7 442.9L783.8 440.3L783 437.8L781.9 435.4L781.3 432.8L780.5 430.3L781.3 427.5L783 425.3L784.4 422.8L783.9 422.8L784.8 422L785.5 420.3L783.3 418L781.8 415.3L780 412.8L778.6 410.1L776.8 407.7L777.7 407.9L776.5 406.9L775.8 405.3L775.2 405.3L775.6 404.4L775.9 402.6L777.7 403.1L775.7 401.8L774.6 400.3L773.8 401L774.3 399.4L774.3 397.7L774.6 395.2L774.2 395.3L774.7 394.3L774.2 392.6L774.8 390.1L775.5 387.7L776.7 385.1L778.1 382.7L779.1 383L778.5 381.9L779.3 380.2L780.9 380.9L779.8 379.5L780.4 377.7L781.4 377.9L781 377L782.2 375.6L783.4 376L782.7 374.9L784.3 373.9L785.3 373.4L783.9 373.1L782.7 371.6L784.3 371.4L782.3 370.7L781.7 368.9L780.5 366.4L782.2 366L780.7 365.5L780.7 363.8L781 361.3L781.8 358.9L782.4 359.6L782.6 358.5L785 357.7L788 356.3L790.7 358.1L793.1 360.1L793.5 362.6L794.1 365.1L794.3 367.6L793.6 370.1L792.3 368.5L793.2 370.8L792 371.9L790.6 373.9L789.3 372.8L790.2 374.7L789.1 376.9L788 380.2L787.8 382.8L786.6 382.8L787.9 383.7L789.2 385.1L789.3 387.7L789.4 390.3L790.2 392.7L790.6 395.2L791.9 398.1L793.5 400.9L794.3 404L793.5 405.2L794.9 404.6L796.2 405.8L795.6 407L796.9 406.5L798.1 407.7L800.6 408.4L801.3 410.3L801.5 408.4L803.1 407.4L805.6 407.7L805.7 408.9L806.4 407.3L808.2 406.7L807.7 405.8L809 406.3L810.6 405.2L812.8 403.2L815.3 401.4L818.1 400.2L820.8 399.3L823.4 398.2L825.6 396.5L828.3 396L828.2 395.4L829.1 395.7L830.7 395L833.2 394L836.9 395.2L835 397.1L835.6 397.9L834.3 397.7L832.4 398.1L831.6 397.7L831.7 398.7L830.7 400.2L830.9 400.6L829.9 400.7L828.4 402.2L825.9 403.9L825.1 403L825.1 404.4L823.1 405.2L820.5 406.6L820.1 405.8L819.7 407.1L817.9 408.2L815.6 410.2L812.6 412.3L813.3 412.9L812 412.9L810.6 415.3L808.9 417.5L808.1 420.3L807.2 423L805.6 425.3L806.4 425.8L806.4 424.9L807.9 423.7L810.6 422.8L813.6 421.5L813.3 424.8L812.2 424.8L813.1 425.7L811.9 427.8L812.5 430.3L812.8 432.8L813.1 435.3L813.6 435.3L812.9 436.2L812.4 437.8L812 440.4L812.6 440.4L811.7 441.2L811.5 442.9L810.6 445.3L808.7 444.7L810.7 446.2L810.5 447.9L810.9 447.7L810.6 448.8L810.9 450.4L812 452.8L811.9 455.4L811 458.1L809.6 460.5L808.1 462.9L807.7 462.1L807.5 463.5L806 465.8L803.1 467.9L800.6 468.9L800.6 469.8L799.8 469.2L797.9 469L797 468.2L797 469.2L795.6 470.4L793.1 472.1L790.8 474.1L789.7 472.8L790 474.6L788 475.4L785.8 477.4L782.8 478.5L780.5 480.4L781.6 479.1L779.7 480L778.1 479L777.8 479.9L777.3 478.6L775.5 477.9L775.1 478.2L774.8 477.4L771.7 475.4L770.3 472.6L768 470.4L769.4 469.7L767.7 469.6L766.9 467.2L765.5 464.1"/>
<path d="M726.6 400.2L729.1 399.7L731.6 399.7L729.7 401.2L727.9 402.7"/>
<path d="M720.4 415.3L723.5 414.1L726.6 413.3L724.5 415.8L722.4 418.3"/>
<path d="M720.9 425.3L724.2 424.7L727.4 423.8L725.1 426L722.9 428.3"/>
<path d="M722.9 434.1L725.6 433.2L728.4 432.3L726.7 434.8L724.9 437.3"/>
<path d="M740.4 373.9L742.9 373.2L745.4 372.6L743.4 374.3L741.7 376.4"/>
<path d="M747.9 347.6L750.1 348.7L752.4 349.6L753.9 347.3L755.5 345.1L753.9 347.5L752 349.6L750.4 352.1"/>
<path d="M745.4 338.8L743.3 341.2L741.7 343.8L743.4 347.6L740.4 350.1"/>
<path d="M740.4 456.6L741.1 457.3L740.9 455.9L741.9 454.7L742.5 452.2L742.2 452L742.9 451.4L744.2 450.4L744.1 449.9L745 450.1L746.8 450.1L749.2 449.1L747.9 449.7L749.4 450L749.6 452.3L750.4 455.4L749.3 457.8L748.8 460.4L747.9 462.9L746.9 462.9L748.2 463.7L748.5 465.5L750 467.8L750.6 467.7L750.3 468.6L750.4 470.4L750.8 470.7L750 471.2L748.7 472.7L747.9 475.4L746.7 477.9L747.5 478L746.1 478.7L744.7 480.3L742.9 482.9L742.5 480.3L744 480.4L742.3 479.4L741.8 477.8L741.1 477.8L741.5 476.9L740.4 475.4L740.1 472.9L739.4 473L740 472L739.4 470.5L739 468L740.3 467.3L738.9 467.1L739.2 465.4L740.2 466L739.3 464.5L739.7 462.5L739.6 459.5Z"/>
<path d="M754.2 470.4L753.8 470.1L755 470L756.7 469.1L759.2 467.9L761.4 469.5L763 471.7L761.8 474.2L761.1 473.6L761.4 475L760.5 476.7L758 476L758.5 475.2L757.1 475.8L755.5 475.4L754.5 473Z"/>
<path d="M750.4 464.1L754.2 462.4L756 466.7L752.4 468.4Z"/>
<path d="M741.7 460.4L742.8 462.8L743.3 465.4L744.2 467.9L743.6 470.8L742.6 473.7L742.4 476.7"/>
<path d="M791.8 437.8L793.6 434.1L794.2 437.2L794.8 440.3L793.5 442.4L792.6 444.6L791.9 441.2Z"/>
<path d="M783 445.3L783.7 447.9L784.5 450.4L783.9 453.1L783.5 455.9L782.8 453.1L782.5 450.4L782.6 447.8Z"/>
<path d="M758.5 431.6L760.6 430.1L763 429L765.5 432.8L764.8 435.3L764.2 437.8L760 437.8L758.9 434.8Z"/>
<path d="M769.2 434.1L771 432.8L770.8 435.3L771 437.8L770.7 440.3L769 442.8L769.2 439.9L769.1 437Z"/>
<path d="M774.5 425.3L777.4 423.5L780.5 422.3L784.5 421.3"/>
<path d="M830.2 378.9L832.4 378L834.6 376.9L836.9 376.4L838.8 378L841 379L843.2 380.2L843.8 383.3L844.4 386.4L841.8 388.2L839.4 390.2L836.4 388.6L833.2 387.7L831.4 385.7L829.4 383.9L829.4 381.4Z"/>
<path d="M841.9 361.4L841.2 362.4L842.8 361.5L845 362.3L844.6 363.2L845.9 362.5L848.2 362.6L851 364.8L853.2 367.6L853.1 370.3L852.1 370.1L852.9 371.1L852 372.6L848.2 370.1L848.9 369.4L847.5 369.6L845.6 368.4L843.2 366.4L843.8 366.2L843 365.5L842.8 363.8L842.5 363.8L842.5 362.9Z"/>
<path d="M803.1 373.9L802.8 373.4L803.9 373.5L805.5 372.4L808.1 371.4L809.9 374L811.9 376.4L811 374.7L811.3 377.1L809.7 378.7L808.3 377.2L809.1 379.4L808.1 381.4L810.6 385.2L810.7 382.7L809.8 385.6L808.4 387L808.3 385.5L807.6 387.4L805.6 387.7L803.5 385.5L804.3 384.1L803 384.8L802.6 382.7L805.1 378.9L804 376.4Z"/>
<path d="M814.4 370.1L814 369.6L815.2 369.7L816.8 368.7L819.4 367.6L821.3 370.1L823.1 372.6L821.8 372.6L822.8 373.5L822.3 375.9L820.6 378.9L823 381L824.4 383.9L821.7 385.6L819.4 387.7L817.4 385.3L815.6 382.7L816.1 379.5L816.9 376.4L816 373.1Z"/>
<path d="M800.6 390.2L803.1 390.9L805.6 391.4L803.1 395.2L799.3 396.5L800.2 393.4Z"/>
<path d="M810.6 391.4L813.2 391.2L815.6 390.2L815 392.7L814.4 395.2L812.5 393.3Z"/>
<path d="M809.4 330L811.8 331.3L814.4 332.5L813.4 335.2L811.9 337.5"/>
<path d="M813.1 342.6L815.7 342.1L818.1 341.3L818.7 344.4L819.4 347.6L817 348.5L815.1 350.1L814.5 347.6L814.1 345Z"/>
<path d="M801.8 345.1L799.3 343.8"/>
<path d="M836.9 351.3L839 353L840.7 355.1L838.2 358.9"/>
<path d="M840.7 357.6L843.2 359.4L845.7 361.4"/>
<path d="M848.2 404L851.2 403.2L850.7 406.5L848.2 407Z"/>
<path d="M833.2 414L836.9 416.5"/>
<path d="M826.9 325L829.2 323.4L832.1 323L834.4 321.3L837.1 322.2L837.1 321.8L837.9 322.6L839.5 323.6L841.9 325L841.4 325.6L842.3 325.8L843.3 327.4L844.6 329.9L845.7 332.5L845.2 335.6L844.3 338.4L844.9 338.8L844 339.3L843.2 341.3L841.3 342.8L839.2 344.1L839.2 342.6L838.4 344.6L836.9 345.1L833.8 344.4L830.7 343.8L831.5 344.8L831.1 343L832.2 341.9L833.1 339.6L834.3 340L833.6 338.8L834.4 337.5L836.2 335.6L838.2 333.8L836.3 331.9L834.4 330L834.6 330.7L833.5 330.2L831.8 330.2L829.4 331.3"/>
<path d="M806.8 318.7L808.9 320.4L810.6 322.5L813.1 323.2L815.6 323.8"/>
<path d="M785.5 322.5L788 318.7"/>
<path d="M679 439.1L681.5 437.8L680.7 441.6Z"/>
<path d="M690.3 424L691.5 427.8L689.8 430.3L690.2 427.2Z"/>
<path d="M664 407.7L665.7 410.2L664.7 414.8L664.4 411.2Z"/>
<path d="M669.7 323.5L671.7 324.5"/>
<path d="M725.4 501.7L726.8 499.4L729 497.8L730.4 495.5L733.7 494.6L736.7 493L740.4 491.7L742 493.5L743.4 495.5L742.6 498.7L741.4 501.7"/>
<path d="M660.1 450.9L660.3 450.2L661 450.6L662.5 449.7L665.1 448.9L667.7 448.4L667.5 447.9L668.4 447.9L670.8 447.1L670.4 446.4L671.6 446.7L673.5 445L675.9 444L675.9 443.2L676.8 443.8L678.5 444.2L677.8 445.6L679 444.9L680.2 446.7L678 447.7L676 449.2L674.3 453.4L674.1 454.1L675.2 453.5L677.3 453.6L680.2 454.2L682.6 455.2L685.2 455L686 457.5L683.5 460.9L681.9 462.8L681 465.1L681.6 465.4L680.4 465.7L678.5 467.6L681.9 469.2L681.3 469.8L682.5 469.9L685.2 472.6L686.2 474.9L687.7 476.8L688 479.3L688.6 481.8L691.1 485.1L693.6 488.5L694.7 490.6L695.3 490.1L695.2 491.4L696.1 492.6L696.5 492.7L696.3 493.5L696.9 496.8L697.8 496.8L697.2 497.7L698.6 501L702.8 501.8L702.1 503.1L703.4 502.5L705.3 504.3L706.1 507.1L707.8 509.4L708.5 509.9L707.4 510.2L706.1 513.5L703.5 513.9L701.1 514.7L703.6 516.9L702.1 516.1L703 517.5L701.6 518.9L703.9 520.2L706.4 521.9L706.2 521L705.5 522L701.9 522.2L702.1 521.3L701.1 522.5L699.2 522.3L699.2 522.9L698.4 522.5L696.9 523.6L694.5 522.5L691.9 522.7L691.6 522L691 522.9L689.5 523.6L686.9 523.6L684.4 522.8L681.9 522.7L679.3 522.9L679.4 521.9L678.4 523.1L676.9 523.6L674.3 523.9L671.8 524.7L670.8 523.6L671.1 525.2L668.5 526.9L666 527.1L663.5 527.7L662.9 526.7L662.6 527.9L660.9 528L661.1 528.4L660.1 528.1L658.5 528.6L661.8 525.2L664 523.7L666 521.9L670.2 520.2L672.5 518.9L672.2 520.8L673.4 518.7L675.2 518.6L678.5 515.5L680.1 515L677.8 515L676 513.5L671.8 514.4L667.7 513.5L665.7 512.1L663.5 511L664.7 512.3L664.2 510.5L666.8 508.5L670.2 506L671.7 505.7L669.8 505.2L668.5 501.8L669.3 497.7L672.7 496L676 496.8L678.5 493.5L677.6 491.1L677.7 488.5L677.2 485.9L676 483.5L676.4 482.7L675.4 482.8L673.5 480.9L670.2 481.8L671.7 480.7L669.4 481.4L666.8 480.1L668.5 475.9L666 472.6L667.7 468.4L665.2 465.1L666.2 464.6L664.7 464.3L663.4 463.3L664 462.6L662.9 462.5L662.6 460.9L663.5 456.7L663.3 457.4L662.7 456.3L660.1 455Z"/>
<path d="M635.9 484.3L639.2 481.8L643.4 482.6L645.9 479.3L646.8 480.2L646.7 478.8L648.6 477.8L650.9 475.9L655.1 474.3L659.3 475.9L657.9 476.1L659.8 476.7L660.4 478.1L661.8 480.1L663.5 484.3L660.1 487.6L659.3 491.8L659.9 492L659.5 492.7L659.9 494.3L660.1 496.8L659.6 499.4L658.5 501.8L657.2 504.3L656.3 503.4L656.6 505L655.1 506L652.6 507.3L652.5 506.3L651.8 507.7L650.1 508.5L647.7 509.3L647.5 510L646.8 509.4L645.1 509.4L642.7 510.2L640.1 510.2L637.5 510.4L635.1 511L631.7 508.5L633.4 509.1L632.1 507.7L633.4 504.3L633.5 503L632.7 503.8L630.9 502.7L632.7 500.6L635.1 499.3L639.2 497.7L640.9 498.5L639.9 497L641.8 495.2L639.8 493.7L639.8 494.6L639 493.3L637.6 492.6L639.2 489.3L635.9 486.8Z"/>
<path d="M656 453.4L657.6 450L659.3 454.2L657.3 458.4L656.9 455.8Z"/>
<path d="M660.1 465.1L662.1 463.4L663.2 467.6L661 469.2Z"/>
<path d="M679.4 440.8L681 440L681.5 442Z"/>
<path d="M683.5 561.2L683.6 561.6L682.7 560.8L680.7 559.6L680.6 560.1L679.9 559.2L677.7 558.3L678 557.8L676.8 558L675 557.9L672.8 556.1L670.2 555.7L669.7 556.1L669.4 555.2L667.4 554.1L664.8 552.3L663.8 548.6L666.2 547.9L667.3 549.1L667.1 547.6L668.5 547L671.4 546.1L674.3 545.6L677.7 543.6L677.6 544.3L678.6 543.8L682.2 544.5L684.9 541.6L683.5 538.3L686.9 536.1L691.1 536.9L691.1 536.4L691.9 536.6L694.4 535.6L694.7 536.4L695.2 535.2L698.6 533.6L698.7 534.3L699.4 533.2L702.8 531.6L703.5 532.5L703.4 530.9L704.5 528.9L706.9 526.9L707.6 527.1L707.2 526.1L707.8 524.4L708.6 521.9L709.6 522.2L709.2 521.3L712 518.6L714.4 516.9L714.2 516.5L715.2 516.4L717 515.2L720.3 511.9L721.2 509.2L722.8 506.9L725.3 503.5L726.1 503L725.2 502.6L724.5 499.3L727 496L729.7 495.7L732 494.3L734.5 493.4L737 492.6L739.5 491L741.3 492.7L743.7 493.5L747.1 490.1L748.1 491.1L747.3 489.3L748.3 487.8L748.7 485.1L747.8 482.6L747.1 480.1L746.5 476.7L745.4 473.4L746.4 473.6L745.2 472.6L744.1 470.2L745.1 470.3L743.8 469.3L743.7 466.7L742.3 463.5L743.5 463L742.1 462.7L742 460.1L742.6 457.5L743.7 455L747.1 451.7L746.7 451.1L747.9 451.3L750.4 450"/>
<path d="M719.5 512.2L721.6 510.5L722.3 513.5L720.3 515.5L718.6 514.5Z"/>
<path d="M727 500.2L729.5 498.5L730.7 502.2L728.3 504.3Z"/>
<path d="M678.5 536.6L679.2 536.9"/>
<path d="M681 538.9L681.7 539.3"/>
<path d="M662.8 543L664.4 545.3L665.3 548L667.5 550.4L670.3 551.8L673.1 552.6L675.1 554.8L677.9 555.5L677 556.2L678.4 556.3L680.2 557.7L681.6 560.6L681.9 563.8L680.9 563.5L682.1 564.6L682.9 566.8L683.3 566.4L683.3 567.6L683.6 569.6L685.9 571.6L685.1 572L686.3 572.4L686.6 574.3L687.8 577.5L687.3 577.9L688.1 578.4L689.1 580.6L690.4 583.1L688.2 585.4L686.6 588.1L685.9 591.2L686.3 591.1L685.7 592.1L685.4 594.4L684.5 594L685.2 595.3L684.6 596.9L683.9 596.2L684.4 597.7L684.1 599.4L684.2 600L683.2 599.4L681.2 599L681.4 598L680.3 599L678.3 599.6L678.1 598.5L677.4 599.6L675.3 599.4L672.9 598.7L670.3 598.7L667.9 598.1L667.8 598.3L667 598L665.3 598.2L665.3 597.2L664.4 598.3L662.9 598.9L663 599.5L662 599L660.4 599.3L660.6 599.6L659.5 599.4L657.8 599.2L655.3 599.4L652.8 598.7L650.2 598.5L650.2 598.7L649.3 598.2L647.7 597.9L648.6 597L646.8 597.7L645.3 596.9L642.6 596.8L640.4 595.2L637.6 595.4L637.9 594.3L636.8 595.2L635.2 594.4L635.2 595L634.3 594.6L632.7 594.4L630.2 595.3L627.7 595.7L624 598.2L624.5 597.8L624.1 599.1L623.8 600.8L624.1 600.6L624 601.6L624.3 603.3L625.2 605.7L624.4 608.1L623.9 610.6L624 613.2L623.7 615.9L622.4 618.3L621.6 618L622.1 619.1L621.4 620.7L620.8 620L621.2 621.6L620.7 623.3L619.8 625.8L618.9 628.2L618.3 630.8L616.8 633.1L616.4 635.8L615.4 635.6L616.1 636.6L615.6 639.1L613.9 642L616.4 645.8L616.1 648.3L615.3 650.8L615.2 653.3L615.6 653.2L615.3 654.2L615 655.9L615.8 658.4L615.2 658.8L615.9 659.3L616.4 660.8L615.2 664.6L617.6 663.8L620.2 663.8L622.7 663.3L625.2 664L627.7 664.5L630.2 664.6L632.4 665.6L634.2 667.5L633.7 668.6L634.9 668L636.5 668.4L635.9 668.8L636.9 669.2L637.6 670.9L636.9 671.8L638 671.7L639 673.4L640 676L641.5 678.4L641 678.9L642.1 679L643.1 680.5L645.3 682.1L646.8 680L649 678.4L651.2 677.3L651.3 678.1L652 676.8L653.1 675.8L655.3 674.6L655 675.7L656.2 674.5L657.8 674L657.8 675.1L658.6 673.8L660.3 673.6L662.8 673.4L665.3 672.9L667.9 673.1L667.8 673.6L668.8 672.9L670.3 672.1L672.7 670.7L675.3 669.6L677.2 667.7L679.1 665.9L681.4 664.2L684.1 663.3L684.7 663.8L684.9 662.9L686.7 662.3L689.1 660.8L690 658.2L691.6 655.8L692.3 656.5L692 655L693.2 653.5L694.1 650.8L697.9 648.3L695 646.2L695.7 645.8L694.4 645.6L692.9 643.3L693.3 640.1L692.7 640.3L693.5 639.2L694.1 637L695.3 634.9L697.1 633.1L697.9 630.8L697.5 630.3L698.5 630.1L700.1 628L702.9 625.7L705 624.5L705.1 625.2L705.8 624L707.4 623.7L709.2 622L711 620.3L713.3 619.4L713.7 620.3L714.1 618.9L715.5 618.2L717.9 617.4L720.5 617L721.3 613.9L721.7 610.7L721.8 608.1L720.4 605.8L720.5 603.2L720.2 603L721 602.4L723 599.4L723.7 600.5L723.9 599.3L725.5 599.3L728 598.7L728 598.4L728.9 598.5L730.5 598.2L733.1 598L735.5 599.1L738 599.4L741.2 600L744.3 600.7L744 600.1L744.9 600L745.9 598.5L746.2 599.1L746.6 597.9L748 596.9L748.6 597.7L748.7 596.3L750.1 595.2L749.9 595.1L750.8 594.7L751.9 593.2L751.8 593L752.6 592.6L754.3 591.9L757 589.5L759.3 586.9L763.1 584.4L765.5 585.5L768.1 585.6L770.7 587.3L773.1 589.4L773.5 588.8L773.5 590.2L774.8 591.7L774.3 591.8L775.2 592.5L775.6 594.4L776.9 596.9L778.1 599.4"/>
<path d="M716.7 638.3L719.2 637L721.7 635.8L725.5 638.3L723 642L718.5 642Z"/>
<path d="M729.2 635.8L731.7 635.3L732.3 637.3L729.7 637.8Z"/>
<path d="M706.7 648.3L709.2 647L709.9 650.3L707.4 650.8Z"/>
<path d="M630.2 708.5L630.6 708.8L630.7 707.7L631.8 706.5L632.6 704L633.8 701.8L633.6 701.6L634.3 701L635.2 699.7L635.6 699.8L635.8 699L637.3 697.9L638.1 695.1L640.2 693.4L640.2 693.2L640.9 692.8L643 691.2L642.7 690.8L643.6 690.5L645.3 688.4L648.2 690.5L647.5 690.9L648.8 691.2L650.3 693.4L652.8 692.6L655.2 691.5L657.8 690.9L660.3 690.6L662.8 690.5L665.4 690.4L667.8 689.7L670.3 689.8L670.5 690.7L671.2 689.9L672.9 689.8L675.4 690.3L677.9 690.9L680.6 689.6L682.8 687.5L685.4 685.9L685.2 685.6L686.1 685.4L688.1 684.6L690.3 682.5L692.9 680.9L695.2 679.6L695 679.3L696.1 679.3L697.9 679.3L700.4 678.4L700.9 679L701.3 678.1L702.7 676.9L703.1 677.4L703.6 676.6L705.5 676.7L708 675.7L707.9 675.3L708.8 675.4L710.4 674.6L710.8 675.3L711.3 674.5L712.9 674.2L715.5 674.2L715.2 674.8L716.4 674L718 673.8L720.5 673.4L721 674L721.3 673.2L723 672.7L725.5 672.3L727.9 671.2L728.4 672L728.8 671L730.5 670.9L732.9 670L735.6 669.9L735.4 670.9L736.5 669.7L738.2 669.5L740.5 668.4L743.1 668.4L745.5 667.2L745.5 668L746.4 667.1L748.1 667.7L750.6 667.1L753.1 666.7L755.6 666.8L755.6 666.5L756.5 666.7L758 665.7L760.6 665.9L763 664.9L765.5 664L766.1 664.6L766.4 663.7L768.1 663.3L768.1 663.1L769 663.1L770.5 662.2L770.5 663.2L771.3 661.9L773.1 661.7L773.4 662.3L774 661.5L775.6 660.8L775.8 660.4L776.5 660.8L778.2 661.2L780.6 660.4L780.4 660L781.5 660.3L783.1 660.3L785.5 661.7L788.2 662.1L790.7 661.6L790.5 661.2L791.6 661.4L793.2 660.8L794.2 663.4L793.8 663.6L794.6 664.3L795.5 665.9L796.9 668.4L797 670.9L797.5 673.4L798.2 675.9L797.1 676.1L798 676.8L797.9 678.4L798.4 678.6L797.8 679.3L797.9 681L798.4 680.9L797.7 681.9L796.9 683.4L796.1 682.9L796.4 684.1L795.2 686.1L793.2 688.4L792.3 690.9L791.6 690.7L792.1 691.7L791.9 693.4L793.4 696.3L795.7 698.4L798 700.1L800.7 700.9L800.6 701.4L801.5 701.4L803.1 702.5L805.7 703.5L804.8 704L806.3 704.1L808.3 705.9L810.7 708.5"/>
<path d="M911.5 643.3L914.7 642.1L914.8 643.1L915.5 641.7L917.8 640.8L920.2 639.8L922.8 638.9L925.3 638.3L927.9 637.7L927.9 638.3L928.7 637.5L930.2 636.6L930.5 637.5L931.1 636.4L932.8 636.3L934.1 638.8L934.3 639.1L933.3 639.2L930.9 640.3L927.8 642L927.2 641.5L927 642.3L925.4 643.2L922.9 644.1L920.3 644.5L917.9 645.4L917.4 644.6L917 645.6L915.3 645.8L912.8 646.3Z"/>
<path d="M941.6 618.2L944.1 616.2L945.4 620.7L942.9 622.7Z"/>
<path d="M907.8 613.2L909.5 614.2"/>
<path d="M911.5 617L913.3 618"/>
<path d="M915.3 613.2L917 614.2"/>
<path d="M919 619.5L920.8 620.5"/>
<path d="M922.8 623.2L924.6 624.2"/>
<path d="M914 623.2L915.8 624.2"/>
<path d="M926.6 613.2L928.3 614.2"/>
<path d="M920.3 609.4L922.1 610.4"/>
<path d="M910.3 622L912 623"/>
<path d="M930.3 620.7L932.1 621.7"/>
<path d="M906.5 627L908.3 628"/>
<path d="M924.1 606.9L925.8 607.9"/>
<path d="M934.1 610.7L935.8 611.7"/>
<path d="M939.1 625.7L940.9 626.7"/>
<path d="M985.5 609.4L987.7 608L989.4 605.8L991.7 604.4L993.1 601.8L994.9 599.4L996.1 596.7L998 594.4L997.2 597.5L996.8 600.7L996.6 603.9L995.5 606.9L993.2 609.7L990.5 612L986.7 612.7Z"/>
<path d="M967.4 565.6L971.7 566.8L972.9 570.6L969.2 571.1L968.3 568.3Z"/>
<path d="M937.9 565.6L936.8 568L936.2 570.6L935.3 573.1L936.9 575.5L937.2 575.4L937.3 576.3L937.7 578.2L939.1 580.6L937.8 583L937.4 585.6L937.7 585.6L937.1 586.5L936.6 588.1L936.2 588.6L937 588.9L938 590.6L938.9 593.3L938.1 593.4L939.3 594.1L940.4 595.7L939.5 595.8L940.1 596.5L939.2 598.1L938.9 600.7L937.9 600.1L938.6 601.6L937.9 603.2L938.1 603.2L938.1 604L938.4 605.8L939.3 608.3L939.9 608.2L939.6 609.1L940.4 610.7L943.6 611.7L943.1 612.4L944.4 612L946.6 613.2L948.8 610.9L948.5 610.8L949.3 610.2L950.4 608.2L953 607.7L955.5 606.8L957.9 605.7L960.8 603.6L962.9 600.7L963.6 601.3L963.8 600.4L965.5 600.2L965.4 601.2L966.4 599.9L967.8 598.5L970.4 598.2L973 598.6L975.5 598.3L975.5 597.8L976.4 598.2L978 598.2L980.5 597.7L982.8 596.3L985.5 595.6L985.5 595.1L986.4 595.2L988 594.4L990.2 592.4L992.2 590.2L992.5 591.3L992.8 589.6L994.3 588.1L996.1 585.8L997.9 583.3L998.7 583.5L998.4 582.6L999.3 580.6L1000.6 580.4L999.6 579.8L1000.9 577.7L1001.8 574.3L1005.5 575.6L1005.9 578.3L1006.8 580.8L1007 580.5L1007.1 581.6L1008 583.1L1008.9 585.6L1010.1 588L1009.3 588.8L1010.4 588.9L1010.6 590.6L1012.6 592.9L1014 595.6L1013.5 596.5L1014.5 596.3L1015.6 598.2L1017 600.5L1017.4 603.2L1016.8 603.9L1017.7 604.1L1018.5 605.6L1019.3 608.2L1019.9 610.7L1019.3 610.6L1020.1 611.6L1021.1 613.1L1021.1 615.7L1020.1 615.9L1021.3 616.6L1021.8 618.2L1022.4 618.3L1021.9 619.1L1022 620.7L1022.6 623.2L1022.8 625.7L1023.1 628.2L1022.5 630.7L1022.6 633.3L1021.9 635.7L1021.8 638.3L1020.8 637.7L1021.2 638.9L1019.8 640.4L1017.7 642.5L1015.6 644.5L1012.9 645.5L1010.5 647L1008 648.3L1005.5 648.7L1003.1 649.7L1003.1 649L1002.2 649.8L1000.5 649.6L998.2 651.5L995.7 653.1L995.3 652.8L994.9 653.6L993 654.6L991.6 656.9L989.9 658.9L989.3 658.5L989.3 659.6L988 660.8L985.5 664.6L985.7 664.8L984.6 664.9L983.1 665.9L983.3 666.3L982.3 666.2L980.6 666.8L978.1 667.9L975.5 668.4L975.5 668.6L974.6 668.5L972.9 668.2L970.4 669L968 669.7L965.4 669.6L965.4 669.9L964.5 669.7L962.9 669.9L962.8 669.3L962 670L960.4 670L957.9 670.5L957.5 669.8L957 670.6L955.4 670.9L952.7 671.3L950.4 672.9L947.7 673.2L945.4 674.6L942.7 675L942.5 674.2L941.8 675.3L940.2 676.1L940.3 676.5L939.4 676.4L937.8 677.4L937.9 676.8L937 677.7L935.3 678.4L932.8 679.2L932 678.3L931.9 679.5L930.4 680.5L930.8 681L929.6 680.8L927.9 681.3L925.3 682.1L922.7 682.3L920.2 683L920.3 682.3L919.3 683.2L917.7 683.8L915.3 684.7L912.9 685.7L912.3 685L912 685.9L910.2 685.4L907.7 686.3L905.3 687.2L902.8 688.5L900.4 690.1L897.7 690.9L895.7 693.2L895.9 693.6L895.2 693.9L894.1 695.7L892.7 698.4L893.1 701.3L893.9 703.9L893 704.6L894.2 704.8L895.2 706.5"/>
<path d="M1019.3 660.8L1022.3 662.5L1025.6 663.3L1027.9 665.3L1030.9 666.3L1033.1 668.4L1035.8 669.8L1038.3 671.5L1040.6 673.4L1043 674.8L1045.7 675.9L1048.2 677.1"/>
<path d="M1043.1 650.8L1044.4 653.3L1045.7 655.8L1046.9 658.3L1047.4 661L1048.4 663.4L1049.4 665.9L1048.7 668.3L1048.9 670.9L1048.2 673.4"/>
<path d="M825 665.9L827.5 667.1L829.6 668.4"/>
<path d="M730 606.9L730.3 608L730.7 606.3L731.8 605.1L733.1 605.7L732.5 604.6L733.9 603.8L736.1 602.5L738.3 601.3L740 599.3L740.6 599.7L740.8 598.9L742.2 597.8L742.1 597.3L742.9 597.4L744.5 596.6L745 597.8L745.3 596.2L746.7 595.2L748.9 593.2L751 591.1L753.4 589.3L753.3 588.7L754.1 588.8L756.1 586.9L756.6 587.7L756.8 586.4L759.2 585.1L762.2 585.2L762.2 585.8L763.1 585.1L765.1 584.3L765.1 585L765.9 584.6L768.5 585.3L771.8 586.8L773.4 589.6L775.9 591.8L777.6 594.7L778.1 594.3L778.1 595.5L779.3 597.7L781.4 600.1L783.5 602.7L785.7 603.8L787.7 605.4L790.1 606L789.5 606.5L790.9 606.4L792.5 606.9L794.5 608.4L796.8 609.4L799.2 610.7L801.9 611L804.3 611.9L804.7 611.4L805.2 612.2L807.4 612.8L810.2 614.4L810.2 615.1L811.1 614.6L813.3 614.7L813.2 614.4L814.1 614.9L816 616L818.8 617.8L821.9 618.6L824.2 620.9L826.9 622.7L829.3 625L827.8 625.3L829.8 625.7L831.1 627.7L830.5 628.1L831.5 628.6L832 630.4L832.4 630.4L832.4 631.2L833.6 632.8L834 635.3L834.4 637.8L832.8 641.1L831.6 644.5L833.6 640.3L836 638.5L836.6 639.3L836.6 637.9L837.8 636.1L838.9 633.6L839.6 633.7L839.3 632.8L840.3 631.1L842 626.9L838.6 624.4L835.3 621.9L834.5 619.5L835.8 619.9L834.3 618.6L834.4 616.9L835.2 617.3L835 616.2L836.9 613.5L840.3 611.9L843 612.2L845.3 613.5L849.5 613.5L847 611L844.6 609.7L842 609.4L838.8 607.7L838.8 608L837.9 607.3L835.3 606.9L834.9 607.2L834.4 606.5L832.1 605.2L832.4 603.9L831.3 604.8L828.6 604.3L826.3 603.4L824.4 601.8L825.2 598.5L825.2 599.1L824.4 598.7L821.9 599.3L819 599L816 598.5L813.1 597.4L812.6 597.9L812.2 597L810.2 596L810.3 594.9L809.5 595.5L807.2 594L804.3 591.8L801.3 589.9L798.5 587.6L796.3 585.2L793.5 583.5L791.7 581.4L793 581.1L791.2 580.7L790.1 579.3L788.5 576.5L787.6 573.4L786.7 570.6L786.8 567.6L790.1 565.1L792.7 564.9L795.2 564.2L798.5 567.6L800.7 569.1L800.9 568.8L801.4 569.7L802.7 570.9L804.9 572.4L806.9 574.3L806.4 575.3L807.6 574.8L809.6 575.6L811.9 577.6L814.6 578.9L816.9 580.9L816.4 582L817.7 581.4L819.4 582.3L821.9 583.5L824.3 584.5L826.9 585.1L830.2 586.4L829.4 587.2L831 586.6L833.6 586.8L833.4 587.9L834.5 586.9L836.9 587.3L837.3 586.7L837.8 587.4L840.3 587.6L843.6 588.6L847 589.3L850.3 591.8L851.5 594.2L852 596.8L851.3 597.1L852.5 597.6L853.9 599.2L855.3 601.8L857.1 605L859.5 607.7L858.4 608.1L860.1 608.4L861.6 610.2L863.7 612.7L865.9 614.8L868.7 616L868.7 617.5L869.5 616.5L871 617.7L870.3 618.2L871.8 618.1L873.7 618.6L876.2 619.4L878.7 620.2L878.9 621.3L879.6 619.9L881.1 619L881 618.7L881.9 618.7L883.7 618.6L886.1 617.2L887.9 615.2L891.3 613.5L889.1 612L887.1 610.2L890.4 606.9L887.1 603.5L883.7 600.2L883.1 600.1L883.3 599.4L882.6 597.6L881.2 595.2L885.4 594.3L888.1 592.5L888.9 592.8L888.8 591.9L890.4 590.1L890 589.9L891.2 589.6L893 588.6L895.4 586.8L898.1 585.8L898.9 586.8L898.9 585.4L900.5 584.3L900.7 585.2L901.3 584.1L903 584.2L905.5 583.5L905.4 584.3L906.3 583.1L908.1 582.4L910.5 580.9L910.1 580.6L911.3 580.7L912.8 579.6L913 580.6L913.7 579.3L915.5 579.3L920 578.4L920.4 579.5L920.8 578L922.3 577.1L923 578.3L923.1 576.7L924.7 575.9L927.6 574.6L930.5 573.4L930.3 573.1L931.4 573.1L933.1 572.7L934 573.6L933.9 572.4L935.6 571.8L935.2 571.8L935.1 571L934 569.8L933 567.6L930.5 565.1L930.2 564.8L931.3 564.5L933.9 562.6L937.2 560.4"/>
<path d="M806 647L810.2 645.3L810.4 646.1L811.1 645.2L813.5 644.6L816.9 644.5L820.1 646.2L823.6 647L826.9 647.8L827 648.3L827.8 648L830.3 648.6L832.8 652L831.8 654.5L831.1 657L831 656.3L830.2 656.8L828.2 656.2L828.4 655.8L827.3 655.9L825.2 655.3L822 653.8L818.6 652.8L815.2 652.4L815.1 651.9L814.3 652.3L811.9 652L812.2 651.6L811 651.8L809.4 651.5L806.9 651.1Z"/>
<path d="M879.6 623.6L882.5 622.9L885.4 621.9L885.2 623.6L886.3 621.8L888.7 621L892.1 621.1L892.2 620.5L892.9 621.4L894.9 622.5L897.9 623.6L896.3 626.9L896.8 626.6L896.8 627.6L898.2 628.8L898.6 628.4L898.7 629.5L899.6 631.1L900.3 634.2L902.1 636.9L900 635.8L897.9 634.4L895.4 636.9L896.3 635.8L894.7 636.4L893.2 635.4L891.3 633.6L887.1 634.4L886.3 634.7L886.5 633.7L885.1 632.6L883.7 630.3L880.4 626.9Z"/>
<path d="M765.1 605.2L768.4 601.8L770.9 604.3L771.8 607.2L771.8 610.2L771.2 612.8L770.1 615.2L766.7 616L765.4 613.7L764.7 611L764.5 608.1Z"/>
<path d="M764.2 621.1L766.9 620.1L769.2 618.6L771.7 619.4L774.3 619.4L776.2 621.7L777.6 624.4L778.1 627.7L778.1 631.1L777.7 633.6L777.5 636.2L776.8 638.6L775.4 641L773.4 642.8L769.2 642L768.6 639.4L767.6 636.9L767 633.6L766.7 630.3L765.7 627.6L764.2 625.2Z"/>
<path d="M801 567.6L804.3 570.1L807.7 573.4L811 576.4"/>
<path d="M822.7 582.6L826.9 583.8L829.3 584.4L831.6 585.5"/>
<path d="M891.3 613.5L893.6 611.9L893.2 611.3L894.4 611.5L896.3 611L898.9 610.5L901.3 609.4L903.2 610.9L905.5 611.9L904.6 612.8L905.9 612.7L907.1 615.2L903 614.4L898.8 615.2L894.6 616"/>
<path d="M818.6 545L822.7 542.5"/>
<path d="M906.5 522.7L907 520.2L907.9 517.8L907.8 515.2L909.1 512.7L910.3 510.1L912.7 509L913.1 509.9L913.6 508.8L915.4 508.9L915.5 508.6L916.3 508.6L917.8 507.6L917.8 507.4L918.7 507.7L920.3 507.8L922.9 507.9L925.3 508.7L925.3 509.4L926.2 508.8L927.8 508.9L930.4 509.6L932.9 510.7L932.8 511.5L933.7 511L935.5 511.3L937.9 512.6L940.3 510.1L942.9 507.6L943.8 508L943.5 507L945.3 505.1L947.9 502.6L947.5 502.6L948.3 501.8L948.7 499.9L950.4 497.6L952.9 497L955.5 496.6L958 496.1L960.4 495.1L960.4 494.8L961.3 495L962.9 494.3L965.4 494.3L967.9 494L970.4 494L971 494.9L971.3 493.9L972.9 493.8L973.3 494.5L973.8 493.8L975.5 493.3L978 494.1L980.5 494.1L983 494.1L985.5 493.8L988 494.4L987.9 494.8L988.9 494.5L990.5 494.1L992.9 495.2L995.5 495.4L998 495.1L997.7 495.7L998.8 495.6L1000.7 496.5L1002.9 498.7L1005.5 500.1L1004.6 502.5L1005.1 502.4L1004.5 503.4L1004.3 505.1L1004.3 507.6L1002.5 509.9L1002.2 512.9L1000.5 515.2L997.7 517.3L995.5 520.2L993.1 521.3L990.5 522.1L990.4 521.6L989.7 522.4L988.1 523.3L985.5 523.9L985.7 524.1L984.6 524.2L982.8 524.5L980.6 526.2L977.9 526.6L975.5 527.7L975.5 526.7L974.6 528L973.2 529.2L970.5 529.6L967.8 530.2L968 530.5L967 530.5L965.4 531.4L962.8 532.5L962.4 532L962 532.9L960.5 534.2L957.9 535.2L955.8 536.8L955.1 536.6L955.1 537.5L954.2 539L954.5 539.2L953.5 539.6L952.2 540.8L951.8 540.4L951.5 541.4L950.4 542.7L949.2 545.6L946.9 547.6L945.4 550.2L943.7 552.8L942.9 552.3L943.2 553.5L941.8 555.1L940.4 557.8L940.5 558.1L939.6 558.3L937.8 559.4L935.7 561.6L932.8 562.8L932.3 562.3L932 563.2L930.6 564.6L927.8 565.3L926.9 568L925.3 570.3L922.7 569.3L922.6 569.6L921.9 568.9L920.3 567.8L917.8 567.3L915.2 567L912.9 565.5L910.3 565.3L909.8 565.3L909.9 564.5L908.6 563L908.2 560.1L906.5 557.8L906.8 555.3L906.6 552.8L907.6 553.2L906.6 551.9L906.3 550.2L907.1 550.3L906.3 549.3L906.5 547.7L906.3 547.7L906.4 546.8L906.5 545.2L906 542.7L905 540.3L905.3 537.7L905.8 535.2L905.2 532.7L905.2 530.2L905.7 530.2L905.2 529.3L905.3 527.7L906.3 525.3Z"/>
<path d="M921.6 481.3L924.1 481.3L926.6 481.7L929.1 481.3L929.6 484.1L929.8 486.9L930.3 489.7L930.3 492.6L926.6 495.1L924.4 492.8L922.8 490.1L922.8 487.1L921.6 484.3Z"/>
<path d="M949.1 468.8L952.3 468.3L955.4 467.5L955.9 470L956.4 472.5L956.3 475L956.7 477.5L956.7 480.1L955.9 482.5L956.2 485.1L955.7 487.6L955.4 490.1L954.9 492.7L954.1 495.1L953.4 492.5L952.6 490L951.2 487.6L950.4 485.1L950.1 482.4L949.8 479.7L949.9 476.9L949.2 474.2L949.3 471.5Z"/>
<path d="M910.3 500.1L912.7 502.1L915.3 503.9L917 502.2L918.3 500.1"/>
<path d="M899 477L901.5 476.3L904 475.5L908.3 477.5"/>
<path d="M967.9 566.5L970.5 567L972.9 567.8L971.7 571.6L968.4 570.3Z"/>
<path d="M817.5 544L821.3 540.7"/>
<path d="M941.6 362.7L943 363.1L941.9 361.8L942.3 360.2L943.8 357.9L944.1 355.2L945.6 352.9L944.9 352.7L946.2 352.3L947.9 351.4L948.5 351.3L947.7 352.3L947.1 353.9L946 354.1L946.9 354.7L946.6 356.4L946.6 358.9L947.9 361L949 363.2L950.4 365.2L949.3 365.6L950.8 366L951.4 367.8L950.7 368.4L951.8 368.6L952.7 370.3L954.1 372.7L955.8 374.9L957.9 376.5L958.4 376.6L957.3 377.1L955.4 379L955.1 379.3L954.7 378.5L952.8 377.2L950.4 375.2L947.8 372.8L945.4 370.2L943.8 367.9L942.9 365.2L943.7 364.2L942.5 364.4Z"/>
<path d="M871.4 377.7L873.9 377.1L876.4 376.5L879 378.3L881.4 380.2L880.8 382.7L880.2 385.3L877.1 385L873.9 384.8L873.4 382.3L872.1 380.1Z"/>
<path d="M847.6 402.8L850.1 401.6L851.4 405.3L848.1 406.6Z"/>
<path d="M1025.6 400.3L1024.7 401L1026.4 400.7L1028.2 401.3L1028.3 400.8L1029 401.7L1030.6 402.9L1033.4 403.6L1033.6 403.4L1034.2 404L1035.6 405.3L1036.4 408.1L1036.7 408L1036.8 408.9L1038.1 410.3L1038.5 410.3L1037.7 411.1L1036.8 412.8L1036.2 412.8L1036.4 413.6L1035.2 415.1L1035.5 415.2L1034.8 415.9L1034.4 417.9L1033.7 417.8L1034.1 418.7L1033.6 420.4L1032.2 422.8L1031.2 425.3L1030.5 425.2L1030.9 426.1L1030.6 427.9L1030 430.5L1028.6 432.8L1028 432.8L1028.2 433.7L1027.3 435.2L1027.7 435.3L1026.9 436L1026.8 437.9L1026 440.6L1025.4 440.5L1025.6 441.4L1024.8 443.1L1023.1 445.4L1021.1 447.2L1019.7 449.6L1019.5 449.2L1019.1 450.2L1017.2 450.8L1015.6 452.9L1015.4 453.4L1014.8 452.5L1012.9 451.9L1013 451.4L1012.1 451.5L1010.6 450.4L1009.9 448L1009.5 448.2L1009.8 447.1L1010.3 445.4L1010 445.5L1010.2 444.5L1009.5 442.9L1009.3 440.4L1010.5 438L1010.2 438L1010.8 437.2L1011.6 435.5L1011.6 432.7L1013.1 430.4L1014.1 428L1014.4 425.4L1015.2 422.9L1014.9 423L1015.4 422.1L1015.6 420.4L1015.1 420.4L1015.5 419.5L1014.8 417.9L1015.3 417.7L1014.6 417L1014.6 415.4L1014.7 412.8L1014.3 410.3L1015.2 407.7L1016.3 407.7L1015.6 406.9L1017 405.4L1018.1 402.8L1020.5 401.8L1023.2 401.4Z"/>
<path d="M1028.1 422.9L1031.9 425.4L1035.6 424.1"/>
<path d="M1015.6 452.9L1018.2 453.5L1020.7 454.2L1023.1 455.5L1025.6 456.1L1028 457.4L1030.5 458L1033.1 458.5L1035.6 459.3L1038.1 460L1040.6 460.4L1043.1 461L1045.5 462.4L1048.2 463"/>
<path d="M1040.6 430.4L1043.1 432.4L1045.6 434.1L1046.9 437.3L1048.2 440.4"/>
<path d="M861.4 358.9L863.9 361.4"/>
<path d="M867.7 364L869.7 365.2"/>
<path d="M820 440.4L822.5 441.7"/>
<path d="M806.2 196.9L809.6 195.9L810.1 196.1L809.7 196.8L809.9 198.4L809.8 201L808.8 201L809.9 201.9L810.6 203.5L810.3 206.1L809.5 206.2L810.4 207L810.9 208.6L810.3 209L811.1 209.5L811.3 211.3L811.6 214L812.8 216.6L813.5 219.2L812.8 219.7L813.7 220.1L813.9 222L814.4 224.6L815.5 227.1L816.6 229.5L817.2 232.2L818.3 234.7L820 236.7L820.3 236.3L820.5 237.5L821.5 239L822.5 241.6L822 242L823 242.3L824.3 243.7L824.4 244.5L825.1 244L826.4 245L825.8 245.6L827.3 245.4L829.1 245.2L831.5 246L833.6 247.4L833.5 248L834.5 247.5L836.8 247.8L839.9 248.7L843 249.4L842.6 249.8L843.4 250.2L844.3 252L841.8 252.3L839.5 253.1L837 253.4L837 252.5L836.1 253.2L833.8 253.4L830.7 252.5L831 252L829.9 252.3L827.6 252L827.4 252.3L826.8 251.6L825.3 250.8L822.9 249.7L823.1 249L822.2 249.3L820.9 248L820.7 248.3L820.4 247.3L819 246L817.6 243.5L818.8 243.1L817.1 242.8L815.9 241.3L814.6 238.9L814 236.2L812.9 233.7L811.7 231.3L810.9 228.6L810.3 228.4L810.7 227.8L810.2 226.3L810 223.9L809.7 223.8L809.9 223L809.2 221.6L808.9 219.1L808.8 216.7L808.3 214.3L807.9 211.9L808.1 209.4L807.8 209.3L808 208.5L807.2 206.9L807.7 206.7L807.1 206L806.8 204.4L806.5 201.9L806.3 202.1L806.4 201L806.3 199.4L807 199.3L806.2 198.5Z"/>
<path d="M830.3 158.4L830.4 157.6L831 158.9L832.7 160.2L835.3 161.8L835.3 163.5L836.2 161.6L838 160.6L841 161.3L843.7 160.1L845.3 162L845.7 161.3L845.7 162.8L846.2 164.3L844.9 164.5L846.7 165L847.9 166.1L848.7 168.5L846.2 171L845.6 169.7L845.5 171.6L843.7 173.5L846.3 173.9L848.7 175L851 176.5L853.7 176.8L854.1 177.9L854.6 176.7L856.2 176.4L858.6 175.4L861.3 175.9L861.5 177.6L862.1 175.7L863.7 175.2L866.3 175.3L866.2 174.5L867.2 175.1L868.7 174.4L869.5 175.4L869.6 174.2L871.2 173.6L873.7 173.5L871.5 175.7L869.1 177.8L867.9 176.7L868.5 178.4L867.1 180.2L865.1 181.6L865.4 182L864.3 182.1L862.9 182.7L860.7 183.9L860.5 182.6L860 184.3L858.7 185.2L856 184.1L853 184.5L850.3 183.5L852 185.5L853.1 187.7L853.7 190.2L856.3 190.8L858.9 191.2L861.2 192.8L863.7 193.5L866.3 194.1L868.8 194.9L871.4 195.5L873.7 196.9L876.2 197.8L878.8 197.2L881.3 198.1L883.8 198.6L883.4 197.7L884.6 198.3L886.2 197.4L886 199.4L887 197.1L888.6 196.4L891.3 196.1L893.8 195.2L897.1 198.6L896 197L896.4 199.1L894.6 199.8L892.5 201.7L891.3 200.9L891.8 202.2L890.5 203.6L890.5 202.6L889.6 203.4L887.6 203.4L884.9 202.4L882.1 201.9L883.1 201.6L882.6 202.6L883.5 204.3L885.7 206.2L886.7 206L886.2 206.9L887.1 208.6L887.3 209.7L888 208.9L889.7 209.2L892.2 210.1L891.9 211.3L893 210.4L894.6 211.3L893.7 213L895.4 211.5L897.1 211.9L897.6 211.7L897.7 212.6L898.9 214.1L900.9 216.1L899.2 216.3L901.4 216.8L902.2 218.6L901.6 221.4L902.1 221.8L901.4 222.3L900.6 224.1L899.8 224L900.5 225L900.5 227L898.2 224.2L895.5 222L897.2 220.9L894.8 221.3L892.9 220.1L891.3 217.2L892.4 215.6L890.7 216.6L888.8 215.3L889.3 214.2L887.9 215.1L885.9 215.1L885.9 215.9L885 215L883.3 213.7L884.2 212.7L882.4 213.6L880.4 213.6L881.7 212.8L879.6 213.2L878.2 211.8L877.8 212.4L877.4 211.4L875.3 211.3L872.7 210.3L870.4 208.6L867.6 207.9L865.2 206.4L866.1 205.1L864.4 206L862.9 204.8L860.4 203.6L857.8 202.8L855.6 201.3L853 200.7L853.8 199.8L852.1 200.4L850.3 200.2L848.5 198L848.9 196.9L847.8 197.5L845.8 197L843.7 195.2L842.4 192.5L843.2 192.2L842 191.7L841.7 189.5L840.3 186.9"/>
<path d="M842 198.6L844.4 199.5L844.4 200.5L845.2 199.8L846.9 200.1L849 201.5L851.3 202.8L851 203.6L852.1 203.1L853.7 203.6L856.3 204.8L856 206L857.1 205.1L859 205.8L858.3 206.7L859.8 206.1L861.6 206.8L860.6 207.6L862.5 207.1L864.3 207.8L864.5 207.2L865.2 208.1L867.1 208.6L865.7 209.5L867.9 209L869.5 209.2L871.7 210.3L873.9 211.5L875.8 213.3L876.1 212.7L876.7 213.7L877.9 214.7L880.4 215.3L882.2 217L884.2 218.4L884.8 217.9L884.9 218.9L886.7 218.9L888.6 220.4L888.1 221L889.3 220.9L890.5 222L887.9 222L887.6 221L887 222L885.4 222.2L882.9 222.1L880.4 222L877.9 220.7L874.9 220.5L875 221L874 220.2L872.2 219.5L869.7 218L867.1 216.9L864.5 215.6L865.3 214.8L863.7 215.3L861.7 214.9L862.3 214.1L860.9 214.6L859.1 213.7L856.6 212.4L853.7 211.9L850.9 211.2L848.4 209.9L846 208.6L846.2 207.8L845.2 208.2L843.7 206.9L842.9 206.9L843.5 206L843.5 204L844.9 204.4L843.3 203.2L842.7 201.3Z"/>
<path d="M853 225.3L854.5 228.5L855 232L854.6 234.8L854 237.5L853 237.3L853.9 238.4L853.7 240.3L854.3 240.7L853.5 241.2L852.8 243.1L853 245.9L852.4 248.7L852 251.5L851.3 254.2L851 257L850.7 259.6L850.3 262.1"/>
<path d="M823.6 248.7L826 247.8L828.7 248.1L831.1 247.2L833.6 247L836.2 247.1L838.6 248.2L841.1 248.4L843.7 248.7L844.4 251.2L845.3 253.7L842.8 254.5L840.4 255.8L837.7 255.8L835.3 257L832.5 256.7L829.8 255.5L827 255.4L825.7 253.2L824.6 251Z"/>
<path d="M837 273.8L839.4 274.9L842 275.4L842.8 278.8L843.7 282.1L841.2 281.2L838.6 280.4L837.9 277.1Z"/>
<path d="M850.3 262.1L850.2 264.8L850.9 267.4L851.5 270.1L851.2 272.8L850.1 273L851.3 273.7L852 275.4L851.9 278.1L852.4 278.2L851.8 279L851.5 280.8L852 280.7L851.4 281.7L851.3 283.5L851.1 286.2L850.3 288.8L850.1 291.5L849.3 294.1L848.9 296.8L849.5 299.6L850 299.5L849.4 300.4L848.7 302.2L848.7 304.7L849.6 307.2L850.3 309.6L850.3 312.2"/>
<path d="M775.1 143.4L777.4 141.4L780.2 140.1L780.1 141.2L781 140.5L782.3 141.3L784.8 142L786.8 143.4L787.6 143.9L787.5 142.8L789 140.5L791.9 138.4L792.9 140.7L792 140.6L793.3 141.5L794.6 142.6L795.2 145.1L792.7 146.5L790.7 148.3L788.5 150.1L785.2 149.3L784.8 147.8L784.3 149.1L781.8 148.4L782.7 147.7L781.1 147.9L779.9 146.3L777.1 145.5Z"/>
<path d="M798.5 128.4L800.9 126.5L803.6 125L805.5 127.6L807.6 130L805.2 131.1L802.9 132.4L800.5 130.6Z"/>
<path d="M833.6 122.4L835.6 123.7L837.6 125L835.3 128.4"/>
<path d="M883.1 148.4L883.8 151.8L884.4 155.1L883.5 157.7L882.4 160.1"/>
<path d="M889.1 147.1L889.9 149.5L890.4 152L891.1 154.4L890.1 156.9L888.8 159.1"/>
<path d="M893.8 145.7L894.9 149.1L895.8 152.4"/>
<path d="M745.1 345.6L746.8 343.8L746.2 343.5L747.3 343.1L748 341.8L750.4 342.3L748.5 341L748.8 339.4L749.9 337.2L751.8 335.6L753.5 336.6L752.3 334.8L752.8 333.4L754.7 331.7L756.1 329.8L757.8 331L756.6 329.1L756.6 327.2L758.4 325.6L759.2 323.2L761.3 321.7L762.8 323L761.8 320.9L762.1 319.3L763.9 317.6L765.1 315.5L764.4 315L765.8 315L767.4 314.2L769.7 312.7L770.2 313.9L770.4 312.2L771.1 310.2L773.5 308.9L776.2 308L778.9 307.1L781.8 307.2L784.7 309.3L786.8 312.2L787.2 313.8L787.7 311.9L789.4 310.6L790.4 311.4L790.3 310.3L792.6 310.4L795.2 308.9L798 309.8L798.5 309.2L798.9 310.1L800.8 310.9L803.6 312.2L803.1 311.6L804.4 311.9L806.4 311.3L808.9 309.5L808.8 308.9L809.8 309.1L811.9 308.9L814.6 310.1L814 312.1L815.5 310.4L817.2 311.7L817.3 311L818.1 312L820.3 312.2L820.2 314.2L821.1 312.5L822.8 312.9L822.9 312.1L823.7 313.2L825.2 314.2L825.2 316.2L826 314.5L827.7 315.1L827.5 316.9L828.5 315.4L830.3 315.5L828.6 316.3L830.7 316.3L831.3 317.8L829.3 317.9L831.7 318.6L832.5 320L833.6 322.3L835.3 324.2L835.8 326.7L836.1 326.2L836.2 327.5L837 328.9L837.2 331.7L835.7 334.2L836.8 334.1L835.6 335.1L836.4 337L835.3 339.6L835.3 342.3L835.6 342.6L834.6 342.8L833.6 344.4L830.9 345.4L831.1 346.3L830.2 345.9L828.7 346.8L827 349L827.6 347.7L826.1 348.7L824.4 348.2L821.9 347.5L819.6 345.9L816.9 345.6L814.9 344.1L814.9 344.7L814.1 343.7L812.2 343.8L810.2 342.3L808.8 339.9L807.9 337.2L805.9 335.1L805.2 332.2L804.4 329.5L802.8 327.2L802.1 327.7L802.4 326.4L801.4 324.7L800.2 322.2L801 322L799.9 323.1L798.7 324.5L798 327L798.1 329.9L799 330.2L797.8 330.7L796.9 332.2L797.9 334.8L797.7 337.7L799.1 340.2L797.4 340.1L799.4 341.1L799.3 343L800.2 345.6L799.2 346.2L800.7 346.4L802 347.4L800.3 348.4L802.5 348.1L802.4 350L804.5 351.5L805.2 351.2L805 352.2L805.8 353.5L804.8 354.2L806.3 354.2L806.9 355.6"/>
<path d="M828.6 292.1L830.8 290.9L833 289.8L835.3 288.8L837.4 290.9L839.5 292.9L841.9 294.8L843.7 297.2L846.5 296.8L849.3 296.5L852 295.5L851.5 298.9L850.3 302.2L847.8 301.5L845.2 300.9L842.8 299.8L840.3 298.8L838 297.5L835.6 296.2L833.3 294.8L831.1 293.2Z"/>
<path d="M837 282.1L838.4 285.4L839.7 288.8L838.7 291.3L837.6 293.8"/>
<path d="M726.7 285.5L730 287.1"/>
<path d="M740.1 288.8L742.1 287.5"/>
<path d="M1014.1 208.6L1015.5 210.6"/>
<path d="M1037.5 215.3L1039.2 213.9"/>
<path d="M1016.8 221.3L1018.8 225.3L1016.1 227.3"/>
<path d="M996.1 250.4L997.4 252.7"/>
<path d="M1025.8 251.4L1027.5 253.4"/>
<path d="M1044.2 283.8L1046.9 287.1L1044.9 289.5"/>
<path d="M1012.4 300.5L1014.1 303.8"/>
</g>
<path class="iso" d="M48 112C48.5 113.5 48.9 115.4 51.3 121.3C53.7 127.2 58.6 138.7 62.6 147.6C66.5 156.5 70.8 165.8 75 175C79.2 184.2 83.7 194.3 87.7 202.7C91.7 211.1 95.7 217.4 99 225.3C102.3 233.2 105 242.1 107.7 250.4C110.4 258.8 112.9 268 115.2 275.4C117.5 282.8 119.2 288.4 121.5 295C123.8 301.6 126.9 307.5 129 315C131.1 322.5 132.5 331.6 134 340C135.5 348.4 136.8 356.8 137.8 365.2C138.9 373.6 139.9 382.8 140.3 390.3C140.7 397.8 140.9 403.6 140.3 410.3C139.7 417 138.6 424.5 136.5 430.4C134.4 436.2 131.3 440.8 127.8 445.4C124.2 450 119.3 453.6 115.2 458C111.1 462.4 106.5 466.7 103 472C99.5 477.3 96.3 483.7 94 490C91.7 496.3 90 503.7 89 510C88 516.3 87.5 521.9 87.7 527.7C87.9 533.5 88.5 539.1 90 545C91.5 550.9 93.7 556.9 96.4 562.8C99.2 568.7 102.7 574.7 106.5 580.3C110.3 585.9 114.2 591.1 119 596.6C123.8 602.1 129.2 608.2 135.3 613C141.4 617.8 148.6 622 155.3 625.5C162 629 168.7 631.8 175.4 634C182.1 636.2 188.8 638 195.5 639C202.2 640 209.7 640.2 215.5 640C221.3 639.8 224.8 640 230.6 638C236.4 636 243.9 632.2 250.6 628C257.3 623.8 264.4 617.6 270.7 613C277 608.4 281.6 603.9 288.2 600.4C294.8 596.9 302.6 594.2 310 592C317.4 589.8 325.1 588.3 332.6 587.4C340.1 586.5 347.7 586.3 355.2 586.4C362.7 586.5 370.2 586.9 377.7 588C385.2 589.1 392.8 590.9 400.3 593C407.8 595.1 415.8 597.8 422.9 600.7C430 603.7 436.7 607.2 443 610.7C449.3 614.2 455.1 618 460.5 622C465.9 626 471.3 630.5 475.5 634.5C479.7 638.5 483.2 641.8 485.5 645.8C487.8 649.8 489.1 654.1 489.3 658.3C489.5 662.5 488.7 666.7 486.8 670.9C484.9 675.1 482 679.6 478 683.4C474 687.1 468.4 690.7 463 693.4C457.6 696.1 451.2 698 445.4 699.7C439.5 701.4 433.8 702.3 427.9 703.5C422 704.7 413 706.4 410 707"/>
<path class="isob" d="M100 112C100.7 113.5 101.9 115.8 104 121.3C106.1 126.8 109.6 137.5 112.7 145C115.8 152.5 119.2 158.5 122.8 166.4C126.3 174.3 130 183.7 134 192.7C138 201.7 142.6 211.5 146.6 220.3C150.6 229.1 154.6 237 157.9 245.3C161.2 253.7 164.2 262.9 166.6 270.4C168.9 277.8 169.7 282.6 172 290C174.3 297.4 177.3 306.7 180.4 315C183.5 323.3 187.1 331.6 190.4 340C193.8 348.4 197.2 356.8 200.5 365.2C203.8 373.6 207.2 381.9 210.5 390.3C213.8 398.7 217.2 407.4 220.5 415.3C223.8 423.2 227.2 430.8 230.6 437.9C233.9 445 237.7 451.8 240.6 458C243.5 464.2 244.7 469.7 248 475C251.3 480.3 256 485.2 260.6 490C265.2 494.8 270.7 499.9 275.7 503.9C280.7 507.9 284.1 510.8 290.7 513.9C297.2 517 306.5 519.6 315 522.7C323.5 525.8 332.7 529.2 341.9 532.7C351.1 536.2 360.9 540.5 370.2 544C379.5 547.5 388.6 550.9 397.8 554C407 557.1 416.2 560.1 425.4 562.8C434.6 565.5 443.8 567.4 453 570.3C462.2 573.2 471.7 576.5 480.5 580.3C489.3 584.1 497.7 588.3 505.6 592.9C513.5 597.5 521.3 603 528 607.9C534.7 612.8 540.2 616.9 546 622C551.8 627.1 557.3 632 563 638.5C568.7 645 574.7 652.9 580 660.8C585.3 668.7 590 678.4 595 685.9C600 693.4 607 701.6 610.2 706C613.4 710.4 613.4 711 614 712"/>
<path class="iso" d="M146 112C146.3 113.5 146.9 116.6 147.8 121.3C148.7 126 149.9 132.7 151.6 140C153.3 147.3 155.4 156.2 157.9 165C160.4 173.8 163.5 183.5 166.6 192.7C169.7 201.9 173.6 211.5 176.7 220.3C179.8 229.1 182.5 237 185.4 245.3C188.3 253.7 191.3 262.1 194.2 270.4C197.1 278.7 200.1 287.6 203 295C205.9 302.4 208.6 307.5 211.7 315C214.8 322.5 218.2 331.6 221.8 340C225.4 348.4 229.3 357.7 233 365.2C236.7 372.7 241.1 379.5 244 385C246.9 390.5 248.2 393.3 250.5 398C252.8 402.7 254.8 407.5 257.5 413C260.2 418.5 263.6 425.3 267 431C270.4 436.7 274 441.8 278 447C282 452.2 286.8 458 291 462C295.2 466 299 468.4 303 471C307 473.6 308.8 473.8 315 477.5C321.2 481.2 331.2 488.2 340 493.5C348.8 498.8 360.4 505 367.7 509C375 513 379 515.1 384 517.7C389 520.3 393.5 522.7 397.9 524.7C402.3 526.8 406.2 528.4 410.4 530C414.6 531.6 416.2 532.3 422.9 534.5C429.6 536.7 441.2 540.3 450.4 543C459.6 545.7 469.2 547.8 478 550.5C486.8 553.2 494.7 556 503 559C511.3 562 520.2 565.7 528 568.5C535.8 571.3 542.2 572.1 550 576C557.8 579.9 566.7 585.3 575 592C583.3 598.7 591.6 607.7 600 616C608.4 624.3 616.8 633.3 625.2 642C633.6 650.7 641.9 659.8 650.3 668C658.6 676.2 667.8 684.7 675.3 691C682.8 697.3 690.9 702.5 695.4 706C699.9 709.5 700.9 711 702 712"/>
<path class="iso" d="M182.5 112C182.6 113.5 182.6 115.8 182.9 121.3C183.2 126.8 183.4 136.9 184.2 145C185 153.1 186.2 161.6 187.9 170C189.6 178.4 191.7 186.8 194.2 195.2C196.7 203.6 200.1 212 203 220.3C205.9 228.7 208.4 236.5 211.7 245.3C215 254.1 219.9 265.6 223 273C226.1 280.4 227.8 283.8 230.5 290C233.2 296.2 236 302.5 239.3 310C242.7 317.5 246.7 326.6 250.6 335C254.5 343.4 259.4 352.7 263 360.2C266.6 367.7 269.2 373.4 272 380C274.8 386.6 277.2 394.2 280 400C282.8 405.8 285.4 409.7 288.5 415C291.6 420.3 294.8 426.3 298.5 431.8C302.2 437.3 306.4 443.1 311 448C315.6 452.9 321.2 457.3 326 461C330.8 464.7 335.6 467.2 340 470C344.4 472.8 347.7 474.7 352.7 477.5C357.7 480.3 364.8 484 370 487C375.2 490 378.9 492.5 384 495.5C389.1 498.5 394.8 502 400.6 505C406.4 508 412.6 511 418.7 513.6C424.8 516.2 430.6 518.4 436.9 520.5C443.2 522.6 450.8 524.4 456.4 526C462 527.6 464.6 528.4 470.3 530C476 531.6 482.9 533.7 490.5 535.5C498.1 537.3 508.2 539.2 515.6 541C523 542.8 529.3 544.3 535 546C540.7 547.7 543.7 548 550 551C556.3 554 564.3 557.8 572.6 564C580.9 570.2 591.2 580 600 588C608.8 596 616.8 604.3 625.2 612C633.6 619.7 641.9 627.3 650.3 634C658.6 640.7 666.9 646.7 675.3 652C683.6 657.3 692 662.2 700.4 666C708.8 669.8 717.1 672.5 725.5 675C733.9 677.5 742.2 679.3 750.6 681C759 682.7 767.2 684.2 775.6 685C784 685.8 793.3 686.3 800.7 686C808.1 685.7 812.2 685.5 820 683.4C827.8 681.3 838.8 677.2 847.6 673.4C856.4 669.6 864.8 665.4 872.7 660.8C880.6 656.2 888.1 651.2 895.2 645.8C902.3 640.4 909 634.5 915.3 628.2C921.6 621.9 927.8 615.3 932.8 608.2C937.8 601.1 941.6 593.1 945.4 585.6C949.2 578.1 952.5 570.9 955.4 563C958.3 555.1 960.6 545.2 963 538C965.4 530.8 967.9 525.1 970 520C972.1 514.9 973.8 513.8 975.5 507.6C977.2 501.4 979.2 490.5 980.5 482.6C981.8 474.7 982.4 465.8 983.5 460C984.6 454.2 985.4 452.5 987 448C988.6 443.5 990.3 438.8 993 432.9C995.7 427 999.2 419.5 1003 412.8C1006.8 406.1 1010.6 399.5 1015.6 392.8C1020.6 386.1 1027.3 378.6 1033 372.7C1038.7 366.8 1045.5 361.5 1050 357.7C1054.5 353.9 1058.3 351.3 1060 350"/>
<path class="iso" d="M205.3 112C205.3 113.5 205.3 115.8 205.5 121.3C205.7 126.8 205.9 136.9 206.7 145C207.5 153.1 208.8 161.6 210.5 170C212.2 178.4 214.3 186.8 216.8 195.2C219.3 203.6 222.4 212 225.5 220.3C228.6 228.7 232.2 237 235.6 245.3C239 253.6 243.1 262.6 246 270C248.9 277.4 250.3 283.3 253 290C255.7 296.7 258.7 302.9 262 310C265.3 317.1 269.5 325.6 273 332.6C276.5 339.6 280.2 345.6 283 352C285.8 358.4 287.4 365 290 370.8C292.6 376.6 295.6 381.6 298.4 386.7C301.2 391.8 303.9 397.1 306.7 401.7C309.5 406.3 312.1 410.1 315.2 414.5C318.3 418.9 321.6 423.6 325.2 428.4C328.8 433.1 332.8 438.5 337 443C341.2 447.5 345.1 451.2 350.3 455.5C355.5 459.8 362.6 464.8 368 468.5C373.4 472.2 377.7 474.8 383 478C388.3 481.2 394 484.8 400 488C406 491.2 412.3 494.2 419 497C425.7 499.8 433.1 502.2 440 504.5C446.9 506.8 453.6 508.8 460.5 510.5C467.4 512.2 474.4 513.6 481.4 515C488.4 516.4 495.9 517.8 502.3 519C508.7 520.2 514 521.2 520 522.5C526 523.8 533 525.2 538 526.5C543 527.8 544.2 527.6 550 530C555.8 532.4 564.3 535.3 572.6 541C580.9 546.7 591.2 556.2 600 564C608.8 571.8 616.8 580.5 625.2 588C633.6 595.5 641.9 602.5 650.3 609C658.6 615.5 666.9 621.8 675.3 627C683.6 632.2 692 636.3 700.4 640C708.8 643.7 717.1 646.8 725.5 649C733.9 651.2 742.2 652.5 750.6 653.5C759 654.5 767.2 654.8 775.6 655C784 655.2 793.3 655.1 800.7 654.6C808.1 654.1 814.3 653.3 820 652C825.7 650.7 828.7 649.3 835 646.8C841.3 644.3 850.1 641 857.6 636.8C865.1 632.6 873.1 627.2 880.2 621.7C887.3 616.2 893.9 610.4 900.2 604C906.5 597.6 912.8 590.3 917.8 583.5C922.8 576.7 926.5 570.6 930.3 563C934.1 555.4 937.8 545.2 940.4 538C943 530.8 944.5 525.5 946 520C947.5 514.5 947.9 511.2 949.5 505C951.1 498.8 953.7 490.1 955.4 482.6C957.1 475.1 958.1 466.2 959.5 460C960.9 453.8 961.7 451.6 963.5 445.4C965.3 439.2 967.7 430.4 970.5 422.9C973.3 415.4 976.8 407.8 980.5 400.3C984.2 392.8 988 384.8 993 377.7C998 370.6 1004.3 364 1010.6 357.7C1016.9 351.4 1024 345.4 1030.6 340C1037.2 334.6 1045.1 328.7 1050 325C1054.9 321.3 1058.3 319.2 1060 318"/>
<path class="isob" d="M224.5 112C224.5 113.5 224.6 115.2 224.3 121.3C224.1 127.4 222.8 140.7 223 148.8C223.2 156.9 224 162.3 225.5 170C227 177.7 229.1 186.8 231.8 195.2C234.5 203.6 238 212 241.8 220.3C245.6 228.7 250.2 237 254.4 245.3C258.6 253.7 263 262.9 266.9 270.4C270.8 277.8 274.4 283.4 278 290C281.6 296.6 285.1 303.3 288.2 310C291.3 316.7 294.2 324.2 296.7 330C299.2 335.8 301.3 340 303.4 345C305.4 350 307.5 355.5 309 360C310.5 364.5 311.1 368.2 312.5 372C313.9 375.8 315.5 378.5 317.6 382.5C319.7 386.5 322.4 391.6 325 395.9C327.6 400.2 330.3 404.2 333.4 408.4C336.5 412.6 340.4 417.2 343.5 421C346.6 424.8 348.9 427.9 352 431C355.1 434.1 359 437.1 362 439.5C365 441.9 366.3 442.9 370 445.3C373.7 447.7 378.9 450.7 384 453.7C389.1 456.7 394.8 460.1 400.6 463.4C406.4 466.6 412.6 470.3 418.7 473.2C424.8 476.1 431.1 478.7 436.9 480.8C442.7 482.9 449.6 484.7 453.6 485.7C457.6 486.7 456.2 486.1 460.8 487C465.4 487.9 474.5 490 481.4 491.3C488.3 492.6 495.9 493.8 502.3 494.8C508.7 495.8 514.4 496.6 520 497.5C525.6 498.4 531 499.4 536 500.5C541 501.6 543.9 501.7 550 504C556.1 506.3 564.7 509.5 572.6 514.5C580.5 519.5 589.2 526.9 597.6 534C606 541.1 614.3 549.3 622.7 557C631.1 564.7 639.4 573 647.8 580C656.1 587 664.4 593.5 672.8 599C681.1 604.5 689.5 609.2 697.9 613C706.3 616.8 714.6 619.5 723 621.7C731.4 623.9 739.7 625.2 748 626C756.3 626.8 765 627.2 773 626.7C781 626.2 787.9 624.5 795.7 623C803.5 621.5 814.3 619.5 820 618C825.7 616.5 824.8 616.3 830 614C835.2 611.7 844.3 607.9 851.4 604C858.5 600.1 866.2 595.8 872.7 590.6C879.2 585.4 885.2 578.9 890.2 573C895.2 567.1 899.2 561.3 902.8 555.5C906.3 549.7 909.1 543.2 911.5 538C913.9 532.8 914.7 529.5 917 524C919.3 518.5 922.7 511.9 925.3 505C927.9 498.1 930.7 490.1 932.8 482.6C934.9 475.1 936 466.2 937.9 460C939.8 453.8 941.5 452 944 445.4C946.5 438.8 949.7 428.8 952.9 420.4C956.1 412 958.8 403.7 963 395.3C967.2 386.9 972.2 378.4 978 370.2C983.8 362 990.5 354.1 998 346.4C1005.5 338.7 1014.3 331.5 1023 323.8C1031.7 316.1 1043.8 305.5 1050 300C1056.2 294.5 1058.3 292.5 1060 291"/>
<path class="iso" d="M239 112C239.1 113.5 239.1 115.8 239.3 121.3C239.5 126.8 239.4 136.9 240 145C240.6 153.1 241.2 161.6 243 170C244.8 178.4 247.4 186.8 250.6 195.2C253.8 203.6 257.9 212 261.9 220.3C265.9 228.7 270 237 274.4 245.3C278.8 253.7 283.9 262.9 288.2 270.4C292.5 277.8 296.6 283.7 300 290C303.4 296.3 305.8 302.3 308.4 308.4C311 314.5 313.5 320.9 315.9 326.8C318.3 332.7 320.5 338.2 322.6 343.5C324.7 348.8 326.8 354.1 328.4 358.5C330 362.9 330.6 366.3 332 370C333.4 373.7 334.8 377 336.8 380.9C338.9 384.8 341.5 389.2 344.3 393.4C347.1 397.6 350.3 401.9 353.5 405.9C356.7 409.9 360.2 414 363.5 417.6C366.8 421.2 369.9 424.5 373.5 427.6C377.1 430.7 380.6 432.9 385.4 436C390.1 439.1 396.2 443.3 402 446.5C407.8 449.7 414.8 452.4 420 455C425.2 457.6 429.5 460 433.4 462C437.3 464 439.6 465.3 443.4 467C447.2 468.7 451 470.3 456.4 472C461.8 473.7 469.3 475.9 475.8 477.4C482.3 478.9 487.9 479.6 495.3 480.8C502.7 482 511.6 482.9 520 484.3C528.4 485.7 536.9 486.7 545.7 489C554.5 491.3 564 493.9 572.6 498C581.2 502.1 589.2 507.7 597.6 513.5C606 519.3 614.3 526.2 622.7 533C631.1 539.8 639.4 547.7 647.8 554.5C656.1 561.3 664.4 568.4 672.8 574C681.1 579.6 689.5 584.1 697.9 587.9C706.3 591.7 714.6 594.8 723 596.6C731.4 598.5 739.7 598.8 748 599C756.3 599.2 765 598.9 773 597.9C781 596.9 787.9 594.9 795.7 592.9C803.5 590.9 813 588.5 820 586C827 583.5 831.3 581.7 837.6 577.8C843.9 573.9 851.3 568.2 857.6 562.8C863.9 557.4 869.8 551.5 875.2 545.2C880.6 538.9 885.6 532.3 890.2 525.2C894.8 518.1 899.4 510.1 902.8 502.6C906.1 495.1 908.2 487.1 910.3 480C912.4 472.9 913.9 465.8 915.3 460C916.7 454.2 916.8 452 918.5 445.4C920.2 438.8 922.5 428.8 925.3 420.4C928.1 412 931.5 403.2 935.3 395.3C939.1 387.4 942.9 380.2 947.9 372.7C952.9 365.1 959.1 357.1 965.4 350C971.7 342.9 978 336.7 985.5 330C993 323.3 1002.7 316.7 1010.6 310C1018.5 303.3 1026.4 296.2 1033 290C1039.6 283.8 1045.5 277.3 1050 273C1054.5 268.7 1058.3 265.5 1060 264"/>
<path class="iso" d="M258.5 112C258.4 113.5 258.3 115.8 258 121.3C257.7 126.8 256.7 136.9 256.9 145C257.1 153.1 257.5 161.6 259.4 170C261.3 178.4 264.6 186.8 268.2 195.2C271.8 203.6 276.6 212.5 280.7 220.3C284.8 228.1 289.4 235.7 293 241.8C296.6 247.9 299 251.9 302 256.9C305 261.9 308.3 267.6 311 272C313.7 276.4 315.9 279.7 318 283C320.1 286.3 321.4 288.1 323.4 292C325.4 295.9 327.8 301.5 330 306.7C332.2 311.9 334.7 317.8 336.8 323.4C338.9 328.9 340.8 334.4 342.6 340C344.4 345.6 346.1 351.7 347.7 356.9C349.3 362.1 350.7 367 352.5 371C354.3 375 356.4 377.6 358.5 380.9C360.6 384.2 362.9 387.5 365.2 390.9C367.4 394.2 369.4 397.6 372 401C374.6 404.4 377.2 407.7 380.5 411C383.8 414.3 387.6 417.7 392 421C396.4 424.3 402.3 428.1 407 431C411.7 433.9 415.1 435.6 420 438.5C424.9 441.4 430.6 445.3 436.7 448.5C442.8 451.7 450.1 455.1 456.8 457.5C463.5 459.9 470.1 461.4 476.8 463C483.5 464.6 489.7 465.8 496.9 467C504.1 468.2 512 469.1 520 470C528 470.9 538.3 471.8 545 472.5C551.7 473.2 555.4 473.6 560 474.5C564.6 475.4 566.3 475.1 572.6 478C578.9 480.9 589.2 486.7 597.6 492C606 497.3 614.3 503.8 622.7 510C631.1 516.2 639.4 523.2 647.8 529.5C656.1 535.8 664.4 542.4 672.8 547.7C681.1 553 689.5 558 697.9 561.5C706.3 565 714.6 567.5 723 569C731.4 570.5 739.7 570.9 748 570.3C756.3 569.7 765 567.6 773 565.3C781 563 787.9 559.6 795.7 556.5C803.5 553.4 812.2 550.5 820 546.5C827.8 542.5 835.9 537.5 842.6 532.7C849.3 527.9 854.6 523.2 860 517.7C865.4 512.2 871 506.3 875.2 500C879.4 493.7 882.5 486.7 885.2 480C887.9 473.3 890 465.3 891.5 460C893 454.7 892.5 453.8 894 448C895.5 442.2 897.5 433.3 900.2 425.4C902.9 417.4 906.1 408.7 910.3 400.3C914.5 391.9 919.9 383.6 925.3 375.2C930.7 366.8 936.2 357.9 942.9 350C949.6 342.1 957.5 334.7 965.4 327.6C973.3 320.5 983 313.8 990.5 307.5C998 301.2 1003.9 296.2 1010.6 290C1017.3 283.8 1024 276.2 1030.6 270.4C1037.2 264.6 1045.1 259.1 1050 255.4C1054.9 251.7 1058.3 249.2 1060 248"/>
<path class="iso" d="M278 112C277.8 113.5 277.5 115.8 276.9 121.3C276.3 126.8 274.4 136.9 274.4 145C274.4 153.1 275.3 162.5 276.9 170C278.5 177.5 281.5 184.5 284 190C286.5 195.5 289.2 198.8 292 203C294.8 207.2 298 210.9 301 215C304 219.1 306.8 223 310 227.5C313.2 232 316.7 237.1 320 242C323.3 246.9 326.9 252 330 257C333.1 262 336 267.7 338.5 272C341 276.3 343.3 279.8 345 283C346.7 286.2 346.8 287.1 348.5 291C350.2 294.9 353.1 301.3 355.2 306.7C357.3 312.1 359.2 317.8 361 323.4C362.8 328.9 364.5 334.4 366 340C367.5 345.6 368.8 351.9 370.2 356.9C371.6 361.9 372.7 365.8 374.5 370C376.3 374.2 378.6 377.7 381 382C383.4 386.3 386.2 392 389 396C391.8 400 394.8 403.2 398 406C401.2 408.8 404.3 410.2 408 412.5C411.7 414.8 415.8 416.8 420 419.5C424.2 422.2 428.4 425.5 433.4 428.5C438.4 431.5 443.9 434.6 450 437.3C456.1 440 463.3 442.6 470 444.5C476.7 446.4 483.5 447.6 490.2 448.6C496.9 449.6 503.6 449.9 510.3 450.3C517 450.7 523.6 450.4 530.3 451C537 451.6 543.7 452.3 550.4 453.6C557.1 454.9 564.3 456.8 570.4 458.6C576.5 460.4 582.1 462.5 587 464.5C591.9 466.5 593.6 466.4 600 470.5C606.4 474.6 616.8 482.9 625.2 489C633.6 495.1 641.9 501.4 650.3 507C658.6 512.6 667.4 518 675.3 522.5C683.2 527 690.4 531.2 697.9 534C705.4 536.8 713 538.2 720.5 539C728 539.8 735.5 539.8 743 539C750.5 538.2 758.1 536.3 765.6 534C773.1 531.7 781.1 528.2 788.2 525C795.3 521.8 801.7 518.5 808.2 515C814.8 511.5 821.8 508.1 827.5 503.9C833.2 499.7 838.4 494.8 842.6 490C846.8 485.2 850 480 852.6 475C855.2 470 856.3 464.5 858 460C859.7 455.5 860.5 453.8 863 448C865.5 442.2 869 433.3 872.7 425.4C876.4 417.4 880.6 408.7 885.2 400.3C889.8 391.9 894.4 383.6 900.2 375.2C906.1 366.8 912.8 358.4 920.3 350C927.8 341.6 937 332.5 945.4 325C953.8 317.5 963 311.3 970.5 305C978 298.7 983.8 292.8 990.5 287C997.2 281.2 1004.4 275.7 1010.6 270.4C1016.9 265.1 1022.6 260.4 1028 255.4C1033.4 250.4 1039.3 244.1 1043 240.3C1046.7 236.5 1047.2 235.7 1050 232.8C1052.8 229.9 1058.3 224.6 1060 223"/>
<path class="isob" d="M295.5 112C295.6 113.5 296 115.4 296.3 121.3C296.6 127.2 296.7 140.3 297.5 147.6C298.3 154.9 299.9 159.6 301.3 165C302.7 170.4 304 175.8 306 180C308 184.2 310.5 185.8 313.4 190C316.3 194.2 320 200 323.4 205C326.8 210 330.1 215.2 333.5 220C336.9 224.8 340.2 228.8 343.5 233.5C346.8 238.2 350.2 243.2 353.5 248.5C356.8 253.8 360.4 259.8 363.5 265C366.6 270.2 369.4 275.7 371.9 280C374.4 284.3 376.8 286.6 378.6 291C380.4 295.4 381.4 301.3 382.8 306.7C384.2 312.1 385.6 317.8 386.9 323.4C388.1 328.9 389.2 334.4 390.3 340C391.4 345.6 392.2 351.6 393.6 356.9C395 362.2 396.7 367.2 398.6 371.9C400.6 376.6 402.8 381.3 405.3 385.3C407.8 389.3 410.6 392.7 413.7 396C416.8 399.3 420.3 402.2 424 405C427.7 407.8 431.7 410.2 436 413C440.3 415.8 444.3 418.9 450 421.5C455.7 424.1 463.3 426.9 470 428.6C476.7 430.3 483.5 431.2 490.2 431.9C496.9 432.6 503.6 432.6 510.3 432.7C517 432.8 523.6 432 530.3 432.2C537 432.4 544.3 432.8 550.4 433.6C556.5 434.4 562.1 435.8 567 436.9C571.9 438 574.5 438.1 580 440C585.5 441.9 593.3 445 600 448.5C606.7 452 613.7 457.2 620 461C626.3 464.8 631.8 467.9 637.7 471.5C643.6 475.1 649 478.9 655.3 482.6C661.6 486.3 668.6 490.7 675.3 493.8C682 496.9 688.7 499.5 695.4 501.4C702.1 503.3 708.8 504.6 715.5 505C722.2 505.4 728.8 505.1 735.5 503.9C742.2 502.7 749.4 500.3 755.6 497.6C761.9 494.9 767.6 491.4 773 487.6C778.4 483.8 783.9 479.3 788.2 475C792.5 470.7 796.5 465.3 799 462C801.5 458.7 801.5 458.6 803.5 455C805.5 451.4 808 445.2 810.7 440.4C813.5 435.6 816.8 430.2 820 426C823.2 421.8 825 420.8 830 415.3C835 409.8 842.5 401.2 850 392.8C857.5 384.4 866.8 373.8 875.2 365C883.6 356.2 891.9 347.9 900.2 340C908.6 332.1 916.9 324.3 925.3 317.6C933.7 310.9 942.9 305.4 950.4 300C957.9 294.6 963.8 290.4 970.5 285.5C977.2 280.6 984.2 275.4 990.5 270.4C996.8 265.4 1002.6 260.4 1008 255.4C1013.4 250.4 1018.4 245.3 1023 240.3C1027.6 235.3 1031.8 230.7 1035.6 225.3C1039.4 219.9 1043.2 213.1 1045.6 207.7C1048 202.3 1048.8 197 1050 192.7C1051.2 188.4 1052.5 183.8 1053 182"/>
<path class="iso" d="M323 112C322.9 113.5 322.8 115.8 322.6 121.3C322.4 126.8 321.6 137.7 322 145C322.4 152.3 323.2 159.2 325 165C326.8 170.8 330.1 175.6 332.6 180C335.1 184.4 337.1 187.8 340 191.7C342.9 195.6 346.4 199.2 350 203.4C353.6 207.6 358 212.6 361.9 216.8C365.8 221 369.7 224.9 373.6 228.5C377.5 232.1 381.7 235.2 385.3 238.5C388.9 241.8 392.5 244.9 395.3 248.5C398.1 252.1 400.2 255.8 402 260C403.8 264.2 405.1 268.6 406 273.6C406.9 278.6 406.9 284.5 407.3 290C407.8 295.5 408.2 301.1 408.7 306.7C409.2 312.3 409.5 317.8 410.3 323.4C411.1 328.9 412.3 334.4 413.7 340C415.1 345.6 416.8 351.6 418.7 356.9C420.6 362.2 422.9 367.2 425.4 371.9C427.9 376.6 430.4 381 433.7 385.3C437 389.6 441 393.9 445.4 397.5C449.8 401.1 454.2 404.2 460 406.8C465.8 409.4 473.3 411.8 480 413.2C486.7 414.6 493.5 415 500.2 415.2C506.9 415.4 513.6 414.7 520.3 414.3C527 413.9 533.6 413 540.3 413C547 413 553.7 413.4 560.4 414.3C567.1 415.2 573.9 417 580.5 418.5C587.1 420 592.5 421.1 600 423.5C607.5 425.9 616.8 429.2 625.2 432.9C633.6 436.5 642.8 442 650.3 445.4C657.8 448.8 663.6 451.1 670.3 453C677 454.9 684.5 456.1 690.4 456.7C696.2 457.3 700.4 457.8 705.4 456.7C710.4 455.6 715.5 453.5 720.5 450.4C725.5 447.3 730.5 443.3 735.5 437.9C740.5 432.5 746 424.2 750.6 417.9C755.2 411.6 758.8 405.7 763 400.3C767.2 394.9 771 389.9 775.6 385.3C780.2 380.7 785.7 376.1 790.7 372.7C795.7 369.3 800.8 367.1 805.7 365.2C810.6 363.2 815.1 362.7 820 361C824.9 359.3 828.3 358.5 835 355C841.7 351.5 851.6 345.4 860 340C868.4 334.6 876.8 328.4 885.2 322.6C893.6 316.8 901.9 310.4 910.3 305C918.6 299.6 926.1 295.8 935.3 290C944.5 284.2 957 276.2 965.4 270.4C973.8 264.6 979.2 260.4 985.5 255.4C991.8 250.4 997.6 245.3 1003 240.3C1008.4 235.3 1013.4 230.7 1018 225.3C1022.6 219.9 1027.4 213.5 1030.6 207.7C1033.8 201.8 1035.6 196 1036.9 190.2C1038.2 184.3 1038.3 178.5 1038.6 172.6C1038.9 166.7 1038.8 160.8 1038.6 155C1038.4 149.2 1037.6 143.1 1037.5 137.5C1037.4 131.9 1037.8 125.5 1038 121.3C1038.2 117 1038.4 113.5 1038.5 112"/>
<path class="iso" d="M352.7 112C352.7 113.5 352.7 116.6 352.7 121.3C352.7 126 351.9 133.6 352.7 140C353.5 146.4 355.3 154.3 357.7 160C360.1 165.7 364.4 170.7 367 174C369.6 177.3 370.8 177.9 373.6 180C376.4 182.1 379.7 184.9 383.6 186.7C387.5 188.5 392 189.9 397 190.9C402 191.9 408.1 191.9 413.7 192.5C419.3 193.1 425.9 193.5 430.4 194.2C434.8 194.9 437.6 195.4 440.4 196.7C443.2 197.9 445.3 198.9 447 201.7C448.7 204.5 449.7 209.2 450.5 213.4C451.3 217.6 451.7 222.4 451.8 226.8C451.9 231.2 451.7 235.6 451.3 240C450.9 244.4 450.3 249 449.6 253.5C448.9 258 448 262.6 447 267C446 271.4 445.1 276 443.8 280C442.5 284 440.7 286.6 439.2 291C437.7 295.4 435.7 301.3 434.8 306.7C433.9 312.1 433.6 317.8 433.7 323.4C433.8 328.9 434.3 334.4 435.4 340C436.5 345.6 438.3 352 440.4 356.9C442.5 361.8 445.1 366 448 369.5C450.9 373 453.5 375.4 457.5 378C461.5 380.6 466.4 383 471.8 385C477.2 387 484.1 389 490.2 390C496.3 391 502.5 391.5 508.6 391C514.7 390.5 520.9 388.9 527 386.8C533.1 384.7 539.6 380.9 545.4 378.4C551.2 375.9 557.3 373.2 562 371.7C566.7 370.2 569.6 369.3 573.8 369.2C578 369.1 583 369.9 587 371C591 372.1 594.5 374.2 598 376C601.5 377.8 604.4 380 607.7 381.5C611 383 613.1 384.2 617.7 384.8C622.3 385.4 628.9 385.3 635.2 385.3C641.5 385.3 649.4 386.1 655.3 384.8C661.1 383.5 665.3 381 670.3 377.7C675.3 374.4 680.4 369.4 685.4 365.2C690.4 361 695.4 356.2 700.4 352.7C705.4 349.1 709.6 346 715.5 343.9C721.4 341.8 728.8 340.4 735.5 340C742.2 339.6 748.9 341.6 755.6 341.4C762.3 341.2 768.9 340 775.6 338.9C782.3 337.8 789.1 336.3 795.7 335C802.3 333.7 808.9 332.9 815 331C821.1 329.1 825.5 326.5 832.6 323.8C839.7 321.1 849.2 318.6 857.6 315C866 311.4 874.6 306.7 882.7 302.5C890.9 298.3 897.7 294.9 906.5 290C915.3 285.1 927.1 278.4 935.3 273C943.4 267.6 948.7 262.9 955.4 257.9C962.1 252.9 969.2 247.8 975.5 242.8C981.8 237.8 987.6 233.2 993 227.8C998.4 222.4 1003.8 216.2 1008 210.3C1012.2 204.5 1015.6 198.6 1018 192.7C1020.4 186.8 1021.8 180.8 1022.6 175C1023.4 169.2 1023 163.4 1023 157.6C1023 151.8 1022.7 146.1 1022.6 140C1022.5 133.9 1022.6 126 1022.6 121.3C1022.6 116.6 1022.6 113.5 1022.6 112"/>
<path class="iso" d="M622 112C620.9 113.5 618.9 116.6 615.2 121.3C611.5 126 605.4 132.7 600 140C594.6 147.3 588.4 156.2 582.6 165C576.8 173.8 570.4 184.3 565 192.7C559.6 201.1 554.5 208.8 550 215.3C545.5 221.9 542.2 226.7 538 232C533.8 237.3 528.5 242.7 525 247C521.5 251.3 518.6 254.9 517 258C515.4 261.1 515.3 263.3 515.6 265.4C515.9 267.5 517.3 269.2 519 270.5C520.7 271.8 522 272 525.6 273C529.2 274 535 275.3 540.7 276.7C546.4 278.1 552.2 279.6 560 281.5C567.8 283.4 579.3 286.3 587.6 288C595.9 289.7 603.7 290.8 610 291.5C616.3 292.2 618.5 292.4 625.2 292C631.9 291.6 641.9 289.2 650.3 289C658.6 288.8 666.9 289.8 675.3 291C683.6 292.2 692.9 294.2 700.4 296C707.9 297.8 713 300.1 720.5 302C728 303.9 738 306.4 745.5 307.5C753 308.6 758.1 308.8 765.6 308.8C773.1 308.8 783 307.9 790.7 307.5C798.4 307.1 804.6 307.8 812 306.5C819.4 305.2 827 302.7 835 300C843 297.3 851.6 293.8 860 290.5C868.4 287.2 876.8 284.2 885.2 280.4C893.6 276.6 901.9 272.5 910.3 267.9C918.6 263.3 927.8 257.9 935.3 252.9C942.8 247.9 948.7 242.8 955.4 237.8C962.1 232.8 969.6 227.8 975.5 222.8C981.4 217.8 986.3 212.7 990.5 207.7C994.7 202.7 998 198.1 1000.5 192.7C1003 187.2 1004.5 181.3 1005.5 175C1006.5 168.7 1006.6 161.7 1006.8 155C1007 148.3 1006.8 140.6 1006.8 135C1006.8 129.4 1006.8 125.1 1006.8 121.3C1006.8 117.5 1006.8 113.5 1006.8 112"/>
<path class="isob" d="M666 112C665 113.5 662.3 117.9 660.3 121.3C658.3 124.7 656.1 128.1 654 132.5C651.9 136.9 649.9 142.2 647.8 147.6C645.7 153 643 159.2 641.5 165C640 170.8 638.8 176.8 639 182.7C639.2 188.6 640.1 194.8 642.8 200.2C645.5 205.6 649.9 210.3 655.3 215.3C660.7 220.3 668.6 225.7 675.3 230.3C682 234.9 688.7 239 695.4 242.8C702.1 246.6 708 250 715.5 252.9C723 255.8 732.1 258.3 740.5 260.4C748.9 262.5 757.2 263.7 765.6 265.4C774 267.1 783 269.1 790.7 270.4C798.4 271.7 805.5 273 812 273C818.5 273 823.7 271.7 830 270.4C836.3 269.1 843.3 267.3 850 265.4C856.7 263.5 863.5 261.5 870.2 259C876.9 256.5 883.5 253.5 890.2 250.4C896.9 247.3 903.6 244.1 910.3 240.3C917 236.5 923.6 232 930.3 227.8C937 223.6 944.5 219.1 950.4 215.3C956.2 211.5 960.8 209 965.4 205.2C970 201.4 974.6 197.3 978 192.7C981.4 188.1 983.8 183.1 985.5 177.7C987.2 172.2 987.9 166.3 988.5 160C989.1 153.7 989.1 146.4 989.2 140C989.3 133.6 989.2 126 989.2 121.3C989.2 116.6 989.2 113.5 989.2 112"/>
<path class="iso" d="M718 112C716.3 113.5 712.2 117.5 708 121.3C703.8 125.1 696.9 130.2 692.9 135C688.9 139.8 685.9 144.6 684 150C682.1 155.4 681.4 161.7 681.6 167.6C681.8 173.5 683.1 179.8 685.4 185.2C687.7 190.6 690.8 196 695.4 200.2C700 204.4 706.3 207.8 713 210.3C719.7 212.8 727.6 214.1 735.5 215.3C743.4 216.6 752.2 217.6 760.6 217.8C769 218 777.4 216.7 785.6 216.5C793.8 216.3 801.8 215.9 810 216.5C818.2 217.1 826.7 219.2 835 220.3C843.3 221.4 852.5 222.8 860 222.8C867.5 222.8 873.5 222 880.2 220.3C886.9 218.6 893.5 215.7 900.2 212.8C906.9 209.9 913.6 206.5 920.3 202.7C927 198.9 935 193.9 940.4 190.2C945.8 186.4 949.6 184 952.9 180.2C956.2 176.4 958.5 172.6 960.4 167.6C962.3 162.6 963.4 155.4 964.2 150C965 144.6 965.1 139.8 965.4 135C965.7 130.2 965.9 125.1 966 121.3C966.1 117.5 966 113.5 966 112"/>
<path class="iso" d="M772 112C770.1 113.5 765 117.9 760.6 121.3C756.2 124.7 749.7 128.6 745.5 132.5C741.3 136.4 738 140.4 735.5 145C733 149.6 731.1 155.2 730.5 160C729.9 164.8 730.1 169.9 731.8 173.9C733.5 177.9 737 181.6 740.5 183.9C744 186.2 748.4 187.5 753 187.7C757.6 187.9 763 187.1 768 185.2C773 183.3 778 179.5 783 176.4C788 173.3 793.6 168.9 798.2 166.4C802.8 163.9 805.4 162.2 810.7 161.4C816 160.6 822.6 161.4 830 161.4C837.4 161.4 847 161.8 855 161.4C863 161 871 160.4 877.7 158.9C884.4 157.4 889.8 155.5 895.2 152.6C900.6 149.7 906.1 145.1 910.3 141.3C914.5 137.5 917.8 133.3 920.3 130C922.8 126.7 923.8 124.3 925.3 121.3C926.8 118.3 928.4 113.5 929 112"/>
<path class="isob" d="M1060 450C1059 453.3 1055.7 462.9 1054 470C1052.3 477.1 1051.2 485.9 1050 492.6C1048.8 499.3 1048.3 502.9 1047 510C1045.7 517.1 1043.4 529.4 1042 535.2C1040.6 541 1039.9 540.4 1038.6 545C1037.3 549.6 1036.2 555.8 1034.4 563C1032.6 570.2 1030.5 579.6 1028 588C1025.5 596.4 1022.6 604.8 1019.3 613.2C1016 621.6 1012.4 630.8 1008 638.3C1003.6 645.8 998.4 651.6 993 658.3C987.6 665 981 673 975.5 678.4C970 683.8 965.9 685.9 960 690.4C954.1 694.9 945.1 701.9 940.4 705.5C935.7 709.1 933.4 710.9 932 712"/>
<path class="iso" d="M1060 395C1058.3 396.3 1054.1 398.6 1050 402.8C1045.9 407 1039.7 414.5 1035.6 420.4C1031.5 426.2 1028.5 432 1025.6 437.9C1022.7 443.8 1019.7 451.8 1018 455.5C1016.3 459.2 1016.6 455.1 1015.6 460C1014.6 464.9 1013.3 476.7 1011.8 485C1010.3 493.3 1008.9 501.2 1006.8 510C1004.7 518.8 1002 528.9 999.3 537.7C996.6 546.5 993.4 554.6 990.5 563C987.6 571.4 985 579.6 981.7 588C978.4 596.4 974.9 605.2 970.5 613.2C966.1 621.2 960.8 628.7 955.4 635.8C950 642.9 944.2 649.5 937.9 655.8C931.6 662.1 924.9 668 917.8 673.4C910.7 678.8 902.7 684 895.2 688.4C887.7 692.8 879 696.9 872.7 699.7C866.4 702.6 862.2 703.6 857.6 705.5C853 707.4 847.1 710.1 845 711"/>
<g transform="translate(122.8 166.4) rotate(68)"><rect x="-6.5" y="-4.2" width="13" height="8.4" fill="#fff"/><text class="cl" x="0" y="2.4" text-anchor="middle">580</text></g>
<g transform="translate(222.5 149.3) rotate(92)"><rect x="-6.5" y="-4.2" width="13" height="8.4" fill="#fff"/><text class="cl" x="0" y="2.4" text-anchor="middle">560</text></g>
<g transform="translate(296.8 147.5) rotate(87)"><rect x="-6.5" y="-4.2" width="13" height="8.4" fill="#fff"/><text class="cl" x="0" y="2.4" text-anchor="middle">540</text></g>
<g transform="translate(341.9 532.7) rotate(22)"><rect x="-6.5" y="-4.2" width="13" height="8.4" fill="#fff"/><text class="cl" x="0" y="2.4" text-anchor="middle">580</text></g>
<g transform="translate(461 487) rotate(14)"><rect x="-6.5" y="-4.2" width="13" height="8.4" fill="#fff"/><text class="cl" x="0" y="2.4" text-anchor="middle">560</text></g>
<g transform="translate(580 440) rotate(14)"><rect x="-6.5" y="-4.2" width="13" height="8.4" fill="#fff"/><text class="cl" x="0" y="2.4" text-anchor="middle">540</text></g>
<g transform="translate(652.3 140.3) rotate(-66)"><rect x="-6.5" y="-4.2" width="13" height="8.4" fill="#fff"/><text class="cl" x="0" y="2.4" text-anchor="middle">520</text></g>
<g transform="translate(957 296) rotate(-36)"><rect x="-6.5" y="-4.2" width="13" height="8.4" fill="#fff"/><text class="cl" x="0" y="2.4" text-anchor="middle">540</text></g>
<g transform="translate(851.4 604) rotate(-28)"><rect x="-6.5" y="-4.2" width="13" height="8.4" fill="#fff"/><text class="cl" x="0" y="2.4" text-anchor="middle">560</text></g>
<g transform="translate(960 690.4) rotate(-38)"><rect x="-6.5" y="-4.2" width="13" height="8.4" fill="#fff"/><text class="cl" x="0" y="2.4" text-anchor="middle">580</text></g>
</g>
<rect x="30.3" y="121.2" width="1019.5" height="584.3" fill="none" stroke="#6e6e6e" stroke-width="0.6"/>
<text class="cr" x="857.6" y="681.3" textLength="165" lengthAdjust="spacing">from grib files provided by ECMWF</text>
<text class="cr" x="915.8" y="700.8" textLength="106.8" lengthAdjust="spacing">©2025 sb@irizone.net</text>
</svg>
</body></html>
